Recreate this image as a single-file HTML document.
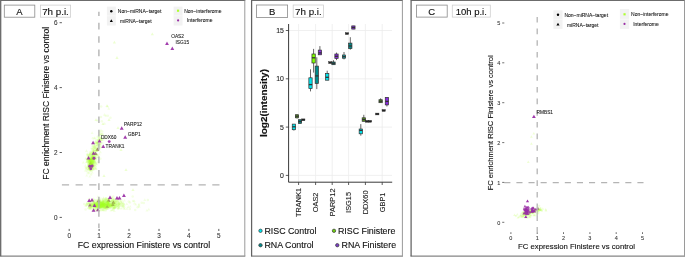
<!DOCTYPE html>
<html lang="en"><head><meta charset="utf-8"><title>Figure</title>
<style>html,body{margin:0;padding:0;background:#fff}svg{display:block;will-change:transform}</style>
</head><body>
<svg width="685" height="257" viewBox="0 0 685 257" font-family='"Liberation Sans", Arial, sans-serif'>
<rect width="685" height="257" fill="#fff"/>
<line x1="0.09999999999999998" y1="0.45" x2="245.3" y2="0.45" stroke="#6c6c6c" stroke-width="1.1"/>
<line x1="0.09999999999999998" y1="256.15" x2="245.3" y2="256.15" stroke="#858585" stroke-width="1.1"/>
<line x1="0.7" y1="0.45" x2="0.7" y2="256.15" stroke="#626262" stroke-width="1.25"/>
<line x1="244.8" y1="0.45" x2="244.8" y2="256.15" stroke="#9a9a9a" stroke-width="1.0"/>
<line x1="251.0" y1="0.45" x2="402.9" y2="0.45" stroke="#6c6c6c" stroke-width="1.1"/>
<line x1="251.0" y1="256.15" x2="402.9" y2="256.15" stroke="#858585" stroke-width="1.1"/>
<line x1="251.6" y1="0.45" x2="251.6" y2="256.15" stroke="#626262" stroke-width="1.25"/>
<line x1="402.4" y1="0.45" x2="402.4" y2="256.15" stroke="#9a9a9a" stroke-width="1.0"/>
<line x1="410.5" y1="0.45" x2="685.0" y2="0.45" stroke="#6c6c6c" stroke-width="1.1"/>
<line x1="410.5" y1="256.15" x2="685.0" y2="256.15" stroke="#858585" stroke-width="1.1"/>
<line x1="411.1" y1="0.45" x2="411.1" y2="256.15" stroke="#626262" stroke-width="1.25"/>
<line x1="684.5" y1="0.45" x2="684.5" y2="256.15" stroke="#9a9a9a" stroke-width="1.0"/>
<rect x="4.3" y="5.1" width="30.499999999999996" height="12.1" fill="#fff" stroke="#8a8a8a" stroke-width="0.8"/>
<text x="19.5" y="14.6" font-size="9.5" text-anchor="middle" font-weight="normal" fill="#111" stroke="#111" stroke-width="0.13">A</text>
<rect x="40.4" y="5.1" width="30.199999999999996" height="12.1" fill="#fff" stroke="#cfcfcf" stroke-width="0.8"/>
<text x="55.5" y="14.7" font-size="9.8" text-anchor="middle" font-weight="normal" fill="#111" stroke="#111" stroke-width="0.14">7h p.i.</text>
<line x1="61.9" y1="184.9" x2="225" y2="184.9" stroke="#b4b4b4" stroke-width="1.4" stroke-dasharray="7.2 6.47"/>
<path d="M90.0 203.3L91.9 206.6L88.1 206.6Z" fill="#9a2ea6" fill-opacity="0.95"/>
<path d="M97.8 208.0L99.7 211.3L95.9 211.3Z" fill="#9a2ea6" fill-opacity="0.95"/>
<path d="M98.6 199.0L100.5 202.3L96.7 202.3Z" fill="#9a2ea6" fill-opacity="0.95"/>
<path d="M108.7 198.6L110.6 201.9L106.8 201.9Z" fill="#9a2ea6" fill-opacity="0.95"/>
<path d="M107.2 204.4L109.1 207.7L105.3 207.7Z" fill="#9a2ea6" fill-opacity="0.95"/>
<path d="M112.7 202.8L114.6 206.1L110.8 206.1Z" fill="#9a2ea6" fill-opacity="0.95"/>
<path d="M113.4 200.5L115.3 203.8L111.5 203.8Z" fill="#9a2ea6" fill-opacity="0.95"/>
<path d="M97.5 147.5L99.4 150.8L95.6 150.8Z" fill="#9a2ea6" fill-opacity="0.95"/>
<path d="M95.6 151.7L97.5 155.0L93.7 155.0Z" fill="#9a2ea6" fill-opacity="0.95"/>
<path d="M90.8 161.1L92.7 164.4L88.9 164.4Z" fill="#9a2ea6" fill-opacity="0.95"/>
<path d="M93.0 156.5L94.9 159.8L91.1 159.8Z" fill="#9a2ea6" fill-opacity="0.95"/>
<path d="M91.0 164.5L92.9 167.8L89.1 167.8Z" fill="#9a2ea6" fill-opacity="0.95"/>
<g><path d="M98.5 204.2L100.0 206.9L97.0 206.9Z" fill="#adff2f" fill-opacity="0.13"/><circle cx="98.7" cy="203.9" r="1.25" fill="#adff2f" fill-opacity="0.13"/><circle cx="94.6" cy="204.3" r="1.25" fill="#adff2f" fill-opacity="0.13"/><path d="M106.4 203.8L107.9 206.4L104.9 206.4Z" fill="#adff2f" fill-opacity="0.13"/><path d="M106.0 203.4L107.5 206.0L104.5 206.0Z" fill="#adff2f" fill-opacity="0.13"/><path d="M102.3 203.4L103.8 206.0L100.8 206.0Z" fill="#adff2f" fill-opacity="0.13"/><circle cx="90.3" cy="206.9" r="1.25" fill="#adff2f" fill-opacity="0.13"/><circle cx="102.9" cy="205.7" r="1.25" fill="#adff2f" fill-opacity="0.13"/><path d="M90.2 199.3L91.7 201.9L88.7 201.9Z" fill="#adff2f" fill-opacity="0.13"/><path d="M94.8 202.1L96.3 204.7L93.3 204.7Z" fill="#adff2f" fill-opacity="0.13"/><path d="M101.8 202.9L103.3 205.5L100.3 205.5Z" fill="#adff2f" fill-opacity="0.13"/><circle cx="103.0" cy="203.0" r="1.25" fill="#adff2f" fill-opacity="0.13"/><path d="M101.8 203.9L103.3 206.5L100.3 206.5Z" fill="#adff2f" fill-opacity="0.13"/><circle cx="96.2" cy="208.7" r="1.25" fill="#adff2f" fill-opacity="0.13"/><path d="M103.2 205.7L104.7 208.3L101.7 208.3Z" fill="#adff2f" fill-opacity="0.13"/><circle cx="96.4" cy="203.0" r="1.25" fill="#adff2f" fill-opacity="0.13"/><path d="M98.0 202.8L99.5 205.5L96.5 205.5Z" fill="#adff2f" fill-opacity="0.13"/><path d="M103.7 203.5L105.2 206.1L102.2 206.1Z" fill="#adff2f" fill-opacity="0.13"/><circle cx="97.4" cy="202.5" r="1.25" fill="#adff2f" fill-opacity="0.13"/><circle cx="97.0" cy="207.5" r="1.25" fill="#adff2f" fill-opacity="0.13"/><circle cx="95.3" cy="205.3" r="1.25" fill="#adff2f" fill-opacity="0.13"/><circle cx="102.5" cy="201.1" r="1.25" fill="#adff2f" fill-opacity="0.13"/><circle cx="100.3" cy="207.6" r="1.25" fill="#adff2f" fill-opacity="0.13"/><path d="M88.3 202.6L89.8 205.3L86.8 205.3Z" fill="#adff2f" fill-opacity="0.13"/><path d="M99.4 201.2L100.9 203.8L97.9 203.8Z" fill="#adff2f" fill-opacity="0.13"/><path d="M102.9 202.8L104.4 205.4L101.4 205.4Z" fill="#adff2f" fill-opacity="0.13"/><circle cx="91.5" cy="206.8" r="1.25" fill="#adff2f" fill-opacity="0.13"/><circle cx="103.9" cy="206.7" r="1.25" fill="#adff2f" fill-opacity="0.13"/><circle cx="108.4" cy="205.2" r="1.25" fill="#adff2f" fill-opacity="0.13"/><path d="M100.7 200.0L102.2 202.6L99.2 202.6Z" fill="#adff2f" fill-opacity="0.13"/><path d="M103.6 201.5L105.1 204.1L102.1 204.1Z" fill="#adff2f" fill-opacity="0.13"/><circle cx="97.4" cy="201.8" r="1.25" fill="#adff2f" fill-opacity="0.13"/><circle cx="94.4" cy="203.5" r="1.25" fill="#adff2f" fill-opacity="0.13"/><path d="M107.5 198.1L109.0 200.8L106.0 200.8Z" fill="#adff2f" fill-opacity="0.13"/><path d="M91.5 203.8L93.0 206.5L90.0 206.5Z" fill="#adff2f" fill-opacity="0.13"/><path d="M108.4 204.1L109.9 206.7L106.9 206.7Z" fill="#adff2f" fill-opacity="0.13"/><circle cx="89.0" cy="199.1" r="1.25" fill="#adff2f" fill-opacity="0.13"/><path d="M102.1 201.3L103.6 203.9L100.6 203.9Z" fill="#adff2f" fill-opacity="0.13"/><circle cx="93.5" cy="207.0" r="1.25" fill="#adff2f" fill-opacity="0.13"/><circle cx="106.4" cy="204.8" r="1.25" fill="#adff2f" fill-opacity="0.13"/><path d="M101.4 204.0L102.9 206.6L99.9 206.6Z" fill="#adff2f" fill-opacity="0.13"/><path d="M109.2 204.2L110.7 206.8L107.7 206.8Z" fill="#adff2f" fill-opacity="0.13"/><path d="M103.0 204.2L104.5 206.8L101.5 206.8Z" fill="#adff2f" fill-opacity="0.13"/><circle cx="90.9" cy="207.8" r="1.25" fill="#adff2f" fill-opacity="0.13"/><circle cx="105.5" cy="205.7" r="1.25" fill="#adff2f" fill-opacity="0.13"/><path d="M88.6 201.9L90.1 204.5L87.1 204.5Z" fill="#adff2f" fill-opacity="0.13"/><path d="M104.9 198.7L106.4 201.3L103.4 201.3Z" fill="#adff2f" fill-opacity="0.13"/><path d="M98.9 205.4L100.4 208.0L97.4 208.0Z" fill="#adff2f" fill-opacity="0.13"/><path d="M92.4 206.9L93.9 209.6L90.9 209.6Z" fill="#adff2f" fill-opacity="0.13"/><circle cx="103.2" cy="204.2" r="1.25" fill="#adff2f" fill-opacity="0.13"/><path d="M101.9 204.5L103.4 207.1L100.4 207.1Z" fill="#adff2f" fill-opacity="0.13"/><path d="M100.7 205.6L102.2 208.3L99.2 208.3Z" fill="#adff2f" fill-opacity="0.13"/><path d="M96.2 202.2L97.7 204.8L94.7 204.8Z" fill="#adff2f" fill-opacity="0.13"/><circle cx="106.0" cy="204.5" r="1.25" fill="#adff2f" fill-opacity="0.13"/><path d="M94.9 205.3L96.4 208.0L93.4 208.0Z" fill="#adff2f" fill-opacity="0.13"/><path d="M108.5 201.7L110.0 204.4L107.0 204.4Z" fill="#adff2f" fill-opacity="0.13"/><path d="M92.0 202.9L93.5 205.6L90.5 205.6Z" fill="#adff2f" fill-opacity="0.13"/><circle cx="99.1" cy="203.9" r="1.25" fill="#adff2f" fill-opacity="0.13"/><path d="M108.1 200.4L109.6 203.0L106.6 203.0Z" fill="#adff2f" fill-opacity="0.13"/><path d="M107.3 199.9L108.8 202.5L105.8 202.5Z" fill="#adff2f" fill-opacity="0.13"/><circle cx="95.4" cy="206.2" r="1.25" fill="#adff2f" fill-opacity="0.13"/><path d="M106.5 204.8L108.0 207.4L105.0 207.4Z" fill="#adff2f" fill-opacity="0.13"/><path d="M102.0 203.3L103.5 205.9L100.5 205.9Z" fill="#adff2f" fill-opacity="0.13"/><circle cx="100.9" cy="205.9" r="1.25" fill="#adff2f" fill-opacity="0.13"/><path d="M99.0 203.7L100.5 206.3L97.5 206.3Z" fill="#adff2f" fill-opacity="0.13"/><circle cx="103.3" cy="204.5" r="1.25" fill="#adff2f" fill-opacity="0.13"/><circle cx="104.4" cy="205.8" r="1.25" fill="#adff2f" fill-opacity="0.13"/><circle cx="111.7" cy="205.0" r="1.25" fill="#adff2f" fill-opacity="0.13"/><circle cx="97.5" cy="203.8" r="1.25" fill="#adff2f" fill-opacity="0.13"/><path d="M99.9 205.1L101.4 207.8L98.4 207.8Z" fill="#adff2f" fill-opacity="0.13"/><circle cx="98.0" cy="205.5" r="1.25" fill="#adff2f" fill-opacity="0.13"/><circle cx="110.7" cy="198.4" r="1.25" fill="#adff2f" fill-opacity="0.13"/><circle cx="93.5" cy="205.4" r="1.25" fill="#adff2f" fill-opacity="0.13"/><circle cx="102.3" cy="205.1" r="1.25" fill="#adff2f" fill-opacity="0.13"/><circle cx="97.5" cy="206.2" r="1.25" fill="#adff2f" fill-opacity="0.13"/><circle cx="101.6" cy="203.4" r="1.25" fill="#adff2f" fill-opacity="0.13"/><path d="M114.1 203.4L115.6 206.0L112.6 206.0Z" fill="#adff2f" fill-opacity="0.13"/><path d="M96.8 202.9L98.3 205.5L95.3 205.5Z" fill="#adff2f" fill-opacity="0.13"/><circle cx="98.7" cy="204.5" r="1.25" fill="#adff2f" fill-opacity="0.13"/><circle cx="84.2" cy="204.0" r="1.25" fill="#adff2f" fill-opacity="0.13"/><circle cx="105.8" cy="201.7" r="1.25" fill="#adff2f" fill-opacity="0.13"/><circle cx="99.6" cy="206.8" r="1.25" fill="#adff2f" fill-opacity="0.13"/><path d="M105.0 206.3L106.5 208.9L103.5 208.9Z" fill="#adff2f" fill-opacity="0.13"/><circle cx="90.1" cy="204.1" r="1.25" fill="#adff2f" fill-opacity="0.13"/><circle cx="98.0" cy="206.1" r="1.25" fill="#adff2f" fill-opacity="0.13"/><circle cx="106.3" cy="198.2" r="1.25" fill="#adff2f" fill-opacity="0.13"/><circle cx="106.3" cy="201.1" r="1.25" fill="#adff2f" fill-opacity="0.13"/><path d="M104.0 199.5L105.5 202.1L102.5 202.1Z" fill="#adff2f" fill-opacity="0.13"/><circle cx="101.0" cy="207.3" r="1.25" fill="#adff2f" fill-opacity="0.13"/><path d="M99.1 203.5L100.6 206.1L97.6 206.1Z" fill="#adff2f" fill-opacity="0.13"/><path d="M104.6 203.2L106.1 205.8L103.1 205.8Z" fill="#adff2f" fill-opacity="0.13"/><path d="M99.5 206.6L101.0 209.2L98.0 209.2Z" fill="#adff2f" fill-opacity="0.13"/><path d="M106.1 202.2L107.6 204.8L104.6 204.8Z" fill="#adff2f" fill-opacity="0.13"/><circle cx="115.9" cy="201.5" r="1.25" fill="#adff2f" fill-opacity="0.13"/><path d="M105.3 202.2L106.8 204.9L103.8 204.9Z" fill="#adff2f" fill-opacity="0.13"/><path d="M100.8 204.6L102.3 207.3L99.3 207.3Z" fill="#adff2f" fill-opacity="0.13"/><path d="M101.3 204.4L102.8 207.1L99.8 207.1Z" fill="#adff2f" fill-opacity="0.13"/><path d="M91.1 199.8L92.6 202.4L89.6 202.4Z" fill="#adff2f" fill-opacity="0.13"/><path d="M103.6 200.7L105.1 203.3L102.1 203.3Z" fill="#adff2f" fill-opacity="0.13"/><path d="M94.0 199.8L95.5 202.5L92.5 202.5Z" fill="#adff2f" fill-opacity="0.13"/><path d="M107.3 204.5L108.8 207.2L105.8 207.2Z" fill="#adff2f" fill-opacity="0.13"/><circle cx="108.5" cy="202.2" r="1.25" fill="#adff2f" fill-opacity="0.13"/><path d="M100.0 200.4L101.5 203.0L98.5 203.0Z" fill="#adff2f" fill-opacity="0.13"/><path d="M104.4 206.5L105.9 209.2L102.9 209.2Z" fill="#adff2f" fill-opacity="0.13"/><circle cx="94.8" cy="208.3" r="1.25" fill="#adff2f" fill-opacity="0.13"/><path d="M105.7 202.4L107.2 205.1L104.2 205.1Z" fill="#adff2f" fill-opacity="0.13"/><path d="M88.6 206.6L90.1 209.2L87.1 209.2Z" fill="#adff2f" fill-opacity="0.13"/><path d="M99.4 201.6L100.9 204.3L97.9 204.3Z" fill="#adff2f" fill-opacity="0.13"/><path d="M102.3 203.9L103.8 206.5L100.8 206.5Z" fill="#adff2f" fill-opacity="0.13"/><path d="M108.7 200.4L110.2 203.0L107.2 203.0Z" fill="#adff2f" fill-opacity="0.13"/><circle cx="106.6" cy="207.8" r="1.25" fill="#adff2f" fill-opacity="0.13"/><circle cx="108.4" cy="203.9" r="1.25" fill="#adff2f" fill-opacity="0.13"/><circle cx="95.7" cy="207.1" r="1.25" fill="#adff2f" fill-opacity="0.13"/><path d="M100.7 203.3L102.2 205.9L99.2 205.9Z" fill="#adff2f" fill-opacity="0.13"/><circle cx="108.3" cy="203.7" r="1.25" fill="#adff2f" fill-opacity="0.13"/><circle cx="86.7" cy="204.1" r="1.25" fill="#adff2f" fill-opacity="0.13"/><path d="M89.2 205.2L90.7 207.9L87.7 207.9Z" fill="#adff2f" fill-opacity="0.13"/><path d="M101.8 201.6L103.3 204.2L100.3 204.2Z" fill="#adff2f" fill-opacity="0.13"/><circle cx="99.9" cy="206.5" r="1.25" fill="#adff2f" fill-opacity="0.13"/><circle cx="100.5" cy="207.6" r="1.25" fill="#adff2f" fill-opacity="0.13"/><path d="M99.6 205.4L101.1 208.1L98.1 208.1Z" fill="#adff2f" fill-opacity="0.13"/><circle cx="108.7" cy="208.0" r="1.25" fill="#adff2f" fill-opacity="0.13"/><path d="M96.1 205.2L97.6 207.8L94.6 207.8Z" fill="#adff2f" fill-opacity="0.13"/><circle cx="89.1" cy="202.4" r="1.25" fill="#adff2f" fill-opacity="0.13"/><path d="M88.6 205.8L90.1 208.5L87.1 208.5Z" fill="#adff2f" fill-opacity="0.13"/><path d="M92.9 203.2L94.4 205.8L91.4 205.8Z" fill="#adff2f" fill-opacity="0.13"/><circle cx="98.9" cy="204.6" r="1.25" fill="#adff2f" fill-opacity="0.13"/><path d="M96.6 203.7L98.1 206.3L95.1 206.3Z" fill="#adff2f" fill-opacity="0.13"/><path d="M110.4 202.8L111.9 205.4L108.9 205.4Z" fill="#adff2f" fill-opacity="0.13"/><path d="M103.1 205.2L104.6 207.9L101.6 207.9Z" fill="#adff2f" fill-opacity="0.13"/><path d="M98.9 200.2L100.4 202.8L97.4 202.8Z" fill="#adff2f" fill-opacity="0.13"/><path d="M96.8 205.6L98.3 208.2L95.3 208.2Z" fill="#adff2f" fill-opacity="0.13"/><circle cx="90.5" cy="203.5" r="1.25" fill="#adff2f" fill-opacity="0.13"/><path d="M105.8 204.7L107.3 207.3L104.3 207.3Z" fill="#adff2f" fill-opacity="0.13"/><path d="M100.0 204.9L101.5 207.5L98.5 207.5Z" fill="#adff2f" fill-opacity="0.13"/><path d="M101.0 200.3L102.5 202.9L99.5 202.9Z" fill="#adff2f" fill-opacity="0.13"/><circle cx="90.9" cy="203.4" r="1.25" fill="#adff2f" fill-opacity="0.13"/><circle cx="105.4" cy="203.1" r="1.25" fill="#adff2f" fill-opacity="0.13"/><circle cx="94.8" cy="203.0" r="1.25" fill="#adff2f" fill-opacity="0.13"/><path d="M91.1 203.0L92.6 205.7L89.6 205.7Z" fill="#adff2f" fill-opacity="0.13"/><circle cx="93.2" cy="205.6" r="1.25" fill="#adff2f" fill-opacity="0.13"/><circle cx="86.3" cy="205.8" r="1.25" fill="#adff2f" fill-opacity="0.13"/><circle cx="96.3" cy="200.2" r="1.25" fill="#adff2f" fill-opacity="0.13"/><path d="M104.2 202.3L105.7 204.9L102.7 204.9Z" fill="#adff2f" fill-opacity="0.13"/><circle cx="87.1" cy="203.0" r="1.25" fill="#adff2f" fill-opacity="0.13"/><circle cx="101.7" cy="203.5" r="1.25" fill="#adff2f" fill-opacity="0.13"/><path d="M104.5 204.6L106.0 207.2L103.0 207.2Z" fill="#adff2f" fill-opacity="0.13"/><path d="M103.9 203.7L105.4 206.3L102.4 206.3Z" fill="#adff2f" fill-opacity="0.13"/><path d="M107.7 204.3L109.2 206.9L106.2 206.9Z" fill="#adff2f" fill-opacity="0.13"/><circle cx="102.6" cy="199.7" r="1.25" fill="#adff2f" fill-opacity="0.13"/><circle cx="105.2" cy="207.5" r="1.25" fill="#adff2f" fill-opacity="0.13"/><circle cx="98.3" cy="203.6" r="1.25" fill="#adff2f" fill-opacity="0.13"/><circle cx="111.3" cy="200.2" r="1.25" fill="#adff2f" fill-opacity="0.13"/><path d="M102.7 208.5L104.2 211.1L101.2 211.1Z" fill="#adff2f" fill-opacity="0.13"/><path d="M94.6 204.8L96.1 207.4L93.1 207.4Z" fill="#adff2f" fill-opacity="0.13"/><circle cx="110.9" cy="204.0" r="1.25" fill="#adff2f" fill-opacity="0.13"/><circle cx="103.3" cy="206.6" r="1.25" fill="#adff2f" fill-opacity="0.13"/><path d="M94.7 203.0L96.2 205.6L93.2 205.6Z" fill="#adff2f" fill-opacity="0.13"/><circle cx="101.7" cy="206.4" r="1.25" fill="#adff2f" fill-opacity="0.13"/><path d="M99.8 202.6L101.3 205.2L98.3 205.2Z" fill="#adff2f" fill-opacity="0.13"/><path d="M94.1 202.4L95.6 205.0L92.6 205.0Z" fill="#adff2f" fill-opacity="0.13"/><path d="M105.2 203.1L106.7 205.7L103.7 205.7Z" fill="#adff2f" fill-opacity="0.13"/><path d="M95.1 201.2L96.6 203.9L93.6 203.9Z" fill="#adff2f" fill-opacity="0.13"/><circle cx="115.5" cy="206.8" r="1.25" fill="#adff2f" fill-opacity="0.13"/><path d="M103.7 196.9L105.2 199.6L102.2 199.6Z" fill="#adff2f" fill-opacity="0.13"/><path d="M103.6 204.0L105.1 206.7L102.1 206.7Z" fill="#adff2f" fill-opacity="0.13"/><circle cx="109.8" cy="205.3" r="1.25" fill="#adff2f" fill-opacity="0.13"/><path d="M99.6 204.2L101.1 206.9L98.1 206.9Z" fill="#adff2f" fill-opacity="0.13"/><path d="M88.7 205.7L90.2 208.4L87.2 208.4Z" fill="#adff2f" fill-opacity="0.13"/><path d="M101.9 201.3L103.4 204.0L100.4 204.0Z" fill="#adff2f" fill-opacity="0.13"/><circle cx="107.7" cy="208.5" r="1.25" fill="#adff2f" fill-opacity="0.13"/><circle cx="91.9" cy="203.3" r="1.25" fill="#adff2f" fill-opacity="0.13"/><circle cx="101.7" cy="205.0" r="1.25" fill="#adff2f" fill-opacity="0.13"/><path d="M97.7 200.8L99.2 203.5L96.2 203.5Z" fill="#adff2f" fill-opacity="0.13"/><circle cx="112.3" cy="206.6" r="1.25" fill="#adff2f" fill-opacity="0.13"/><circle cx="93.1" cy="201.7" r="1.25" fill="#adff2f" fill-opacity="0.13"/><path d="M109.9 205.0L111.4 207.6L108.4 207.6Z" fill="#adff2f" fill-opacity="0.13"/><path d="M110.6 204.6L112.1 207.2L109.1 207.2Z" fill="#adff2f" fill-opacity="0.13"/><path d="M94.9 203.8L96.4 206.4L93.4 206.4Z" fill="#adff2f" fill-opacity="0.13"/><path d="M87.5 201.7L89.0 204.3L86.0 204.3Z" fill="#adff2f" fill-opacity="0.13"/><circle cx="99.7" cy="205.8" r="1.25" fill="#adff2f" fill-opacity="0.13"/><path d="M95.8 202.9L97.3 205.5L94.3 205.5Z" fill="#adff2f" fill-opacity="0.13"/><circle cx="102.7" cy="205.4" r="1.25" fill="#adff2f" fill-opacity="0.13"/><path d="M103.7 203.4L105.2 206.0L102.2 206.0Z" fill="#adff2f" fill-opacity="0.13"/><circle cx="98.1" cy="206.5" r="1.25" fill="#adff2f" fill-opacity="0.13"/><circle cx="100.3" cy="202.7" r="1.25" fill="#adff2f" fill-opacity="0.13"/><circle cx="96.4" cy="204.7" r="1.25" fill="#adff2f" fill-opacity="0.13"/><circle cx="99.4" cy="205.0" r="1.25" fill="#adff2f" fill-opacity="0.13"/><circle cx="100.0" cy="205.0" r="1.25" fill="#adff2f" fill-opacity="0.13"/><path d="M99.2 200.1L100.7 202.8L97.7 202.8Z" fill="#adff2f" fill-opacity="0.13"/><circle cx="102.4" cy="207.0" r="1.25" fill="#adff2f" fill-opacity="0.13"/><path d="M102.5 202.5L104.0 205.1L101.0 205.1Z" fill="#adff2f" fill-opacity="0.13"/><circle cx="102.6" cy="202.3" r="1.25" fill="#adff2f" fill-opacity="0.13"/><circle cx="89.0" cy="205.1" r="1.25" fill="#adff2f" fill-opacity="0.13"/><circle cx="94.6" cy="206.5" r="1.25" fill="#adff2f" fill-opacity="0.13"/><path d="M93.7 197.2L95.2 199.8L92.2 199.8Z" fill="#adff2f" fill-opacity="0.13"/><circle cx="94.0" cy="208.4" r="1.25" fill="#adff2f" fill-opacity="0.13"/><circle cx="97.8" cy="201.5" r="1.25" fill="#adff2f" fill-opacity="0.13"/><path d="M95.6 204.3L97.1 207.0L94.1 207.0Z" fill="#adff2f" fill-opacity="0.13"/><path d="M102.9 203.3L104.4 206.0L101.4 206.0Z" fill="#adff2f" fill-opacity="0.13"/><circle cx="108.6" cy="206.0" r="1.25" fill="#adff2f" fill-opacity="0.13"/><circle cx="99.9" cy="206.0" r="1.25" fill="#adff2f" fill-opacity="0.13"/><path d="M109.6 205.0L111.1 207.6L108.1 207.6Z" fill="#adff2f" fill-opacity="0.13"/><path d="M105.9 200.3L107.4 203.0L104.4 203.0Z" fill="#adff2f" fill-opacity="0.13"/><path d="M99.1 204.7L100.6 207.4L97.6 207.4Z" fill="#adff2f" fill-opacity="0.13"/><circle cx="98.3" cy="207.1" r="1.25" fill="#adff2f" fill-opacity="0.13"/><circle cx="103.5" cy="206.6" r="1.25" fill="#adff2f" fill-opacity="0.13"/><path d="M98.8 208.9L100.3 211.5L97.3 211.5Z" fill="#adff2f" fill-opacity="0.13"/><circle cx="107.2" cy="203.9" r="1.25" fill="#adff2f" fill-opacity="0.13"/><path d="M100.5 209.0L102.0 211.6L99.0 211.6Z" fill="#adff2f" fill-opacity="0.13"/><circle cx="98.0" cy="206.7" r="1.25" fill="#adff2f" fill-opacity="0.13"/><path d="M105.7 202.9L107.2 205.5L104.2 205.5Z" fill="#adff2f" fill-opacity="0.13"/><path d="M93.2 203.7L94.7 206.3L91.7 206.3Z" fill="#adff2f" fill-opacity="0.13"/><path d="M102.1 205.6L103.6 208.2L100.6 208.2Z" fill="#adff2f" fill-opacity="0.13"/><path d="M104.5 202.9L106.0 205.6L103.0 205.6Z" fill="#adff2f" fill-opacity="0.13"/><circle cx="105.0" cy="205.7" r="1.25" fill="#adff2f" fill-opacity="0.13"/><circle cx="101.2" cy="204.7" r="1.25" fill="#adff2f" fill-opacity="0.13"/><path d="M98.6 204.6L100.1 207.3L97.1 207.3Z" fill="#adff2f" fill-opacity="0.13"/><circle cx="93.9" cy="203.3" r="1.25" fill="#adff2f" fill-opacity="0.13"/><path d="M100.0 199.6L101.5 202.3L98.5 202.3Z" fill="#adff2f" fill-opacity="0.13"/><path d="M97.5 198.5L99.0 201.1L96.0 201.1Z" fill="#adff2f" fill-opacity="0.13"/><path d="M96.0 204.4L97.5 207.1L94.5 207.1Z" fill="#adff2f" fill-opacity="0.13"/><circle cx="103.3" cy="204.4" r="1.25" fill="#adff2f" fill-opacity="0.13"/><circle cx="98.7" cy="201.4" r="1.25" fill="#adff2f" fill-opacity="0.13"/><path d="M110.6 203.9L112.1 206.5L109.1 206.5Z" fill="#adff2f" fill-opacity="0.13"/><path d="M106.3 200.8L107.8 203.4L104.8 203.4Z" fill="#adff2f" fill-opacity="0.13"/><circle cx="98.9" cy="200.4" r="1.25" fill="#adff2f" fill-opacity="0.13"/><path d="M104.5 205.0L106.0 207.7L103.0 207.7Z" fill="#adff2f" fill-opacity="0.13"/><circle cx="89.0" cy="204.8" r="1.25" fill="#adff2f" fill-opacity="0.13"/><path d="M103.7 198.9L105.2 201.5L102.2 201.5Z" fill="#adff2f" fill-opacity="0.13"/><circle cx="89.4" cy="202.5" r="1.25" fill="#adff2f" fill-opacity="0.13"/><path d="M96.4 199.9L97.9 202.5L94.9 202.5Z" fill="#adff2f" fill-opacity="0.13"/><circle cx="100.2" cy="205.2" r="1.25" fill="#adff2f" fill-opacity="0.13"/><path d="M103.7 204.5L105.2 207.2L102.2 207.2Z" fill="#adff2f" fill-opacity="0.13"/><path d="M108.7 205.4L110.2 208.1L107.2 208.1Z" fill="#adff2f" fill-opacity="0.13"/><circle cx="92.4" cy="203.7" r="1.25" fill="#adff2f" fill-opacity="0.13"/><path d="M93.9 200.7L95.4 203.4L92.4 203.4Z" fill="#adff2f" fill-opacity="0.13"/><circle cx="99.5" cy="204.6" r="1.25" fill="#adff2f" fill-opacity="0.13"/><path d="M102.8 199.3L104.3 201.9L101.3 201.9Z" fill="#adff2f" fill-opacity="0.13"/><circle cx="92.8" cy="204.8" r="1.25" fill="#adff2f" fill-opacity="0.13"/><path d="M98.8 202.3L100.3 205.0L97.3 205.0Z" fill="#adff2f" fill-opacity="0.13"/><circle cx="99.6" cy="202.9" r="1.25" fill="#adff2f" fill-opacity="0.13"/><path d="M104.1 203.7L105.6 206.3L102.6 206.3Z" fill="#adff2f" fill-opacity="0.13"/><circle cx="99.5" cy="203.1" r="1.25" fill="#adff2f" fill-opacity="0.13"/><path d="M99.0 196.8L100.5 199.4L97.5 199.4Z" fill="#adff2f" fill-opacity="0.13"/><circle cx="94.3" cy="204.9" r="1.25" fill="#adff2f" fill-opacity="0.13"/><circle cx="91.3" cy="205.3" r="1.25" fill="#adff2f" fill-opacity="0.13"/><circle cx="100.9" cy="201.4" r="1.25" fill="#adff2f" fill-opacity="0.13"/><path d="M98.5 202.3L100.0 205.0L97.0 205.0Z" fill="#adff2f" fill-opacity="0.13"/><path d="M102.7 204.3L104.2 207.0L101.2 207.0Z" fill="#adff2f" fill-opacity="0.13"/><path d="M99.8 201.1L101.3 203.7L98.3 203.7Z" fill="#adff2f" fill-opacity="0.13"/><path d="M99.2 202.9L100.7 205.5L97.7 205.5Z" fill="#adff2f" fill-opacity="0.13"/><path d="M104.3 203.6L105.8 206.2L102.8 206.2Z" fill="#adff2f" fill-opacity="0.13"/><path d="M95.8 200.0L97.3 202.7L94.3 202.7Z" fill="#adff2f" fill-opacity="0.13"/><circle cx="97.8" cy="203.0" r="1.25" fill="#adff2f" fill-opacity="0.13"/><circle cx="93.6" cy="204.5" r="1.25" fill="#adff2f" fill-opacity="0.13"/><path d="M97.2 203.3L98.7 206.0L95.7 206.0Z" fill="#adff2f" fill-opacity="0.13"/><circle cx="103.0" cy="203.6" r="1.25" fill="#adff2f" fill-opacity="0.13"/><path d="M113.5 201.9L115.0 204.5L112.0 204.5Z" fill="#adff2f" fill-opacity="0.13"/><circle cx="106.4" cy="204.7" r="1.25" fill="#adff2f" fill-opacity="0.13"/><path d="M106.5 197.4L108.0 200.0L105.0 200.0Z" fill="#adff2f" fill-opacity="0.13"/><circle cx="95.6" cy="205.3" r="1.25" fill="#adff2f" fill-opacity="0.13"/><circle cx="103.5" cy="209.9" r="1.25" fill="#adff2f" fill-opacity="0.13"/><path d="M101.9 205.9L103.4 208.5L100.4 208.5Z" fill="#adff2f" fill-opacity="0.13"/><circle cx="104.4" cy="206.6" r="1.25" fill="#adff2f" fill-opacity="0.13"/><circle cx="103.0" cy="204.2" r="1.25" fill="#adff2f" fill-opacity="0.13"/><path d="M103.0 200.4L104.5 203.1L101.5 203.1Z" fill="#adff2f" fill-opacity="0.13"/><path d="M106.9 200.5L108.4 203.1L105.4 203.1Z" fill="#adff2f" fill-opacity="0.13"/><path d="M101.4 207.9L102.9 210.5L99.9 210.5Z" fill="#adff2f" fill-opacity="0.13"/><circle cx="98.7" cy="204.7" r="1.25" fill="#adff2f" fill-opacity="0.13"/><path d="M106.7 202.9L108.2 205.5L105.2 205.5Z" fill="#adff2f" fill-opacity="0.13"/><circle cx="95.3" cy="205.3" r="1.25" fill="#adff2f" fill-opacity="0.13"/><circle cx="103.4" cy="206.1" r="1.25" fill="#adff2f" fill-opacity="0.13"/><path d="M95.5 207.2L97.0 209.8L94.0 209.8Z" fill="#adff2f" fill-opacity="0.13"/><circle cx="109.7" cy="204.4" r="1.25" fill="#adff2f" fill-opacity="0.13"/><circle cx="101.6" cy="203.6" r="1.25" fill="#adff2f" fill-opacity="0.13"/><path d="M108.2 201.1L109.7 203.8L106.7 203.8Z" fill="#adff2f" fill-opacity="0.13"/><circle cx="103.9" cy="203.4" r="1.25" fill="#adff2f" fill-opacity="0.13"/><path d="M96.0 204.8L97.5 207.4L94.5 207.4Z" fill="#adff2f" fill-opacity="0.13"/><circle cx="107.7" cy="204.3" r="1.25" fill="#adff2f" fill-opacity="0.13"/><circle cx="96.1" cy="206.6" r="1.25" fill="#adff2f" fill-opacity="0.13"/><path d="M99.7 203.7L101.2 206.4L98.2 206.4Z" fill="#adff2f" fill-opacity="0.13"/><circle cx="108.8" cy="206.9" r="1.25" fill="#adff2f" fill-opacity="0.13"/><circle cx="97.0" cy="209.9" r="1.25" fill="#adff2f" fill-opacity="0.13"/><path d="M100.0 204.8L101.5 207.5L98.5 207.5Z" fill="#adff2f" fill-opacity="0.13"/><path d="M96.2 203.0L97.7 205.7L94.7 205.7Z" fill="#adff2f" fill-opacity="0.13"/><path d="M89.9 207.4L91.4 210.1L88.4 210.1Z" fill="#adff2f" fill-opacity="0.13"/><circle cx="107.9" cy="201.6" r="1.25" fill="#adff2f" fill-opacity="0.13"/><path d="M91.3 199.5L92.8 202.2L89.8 202.2Z" fill="#adff2f" fill-opacity="0.13"/><circle cx="106.8" cy="203.3" r="1.25" fill="#adff2f" fill-opacity="0.13"/><path d="M99.6 202.3L101.1 204.9L98.1 204.9Z" fill="#adff2f" fill-opacity="0.13"/><circle cx="99.3" cy="202.1" r="1.25" fill="#adff2f" fill-opacity="0.13"/><path d="M100.1 199.7L101.6 202.3L98.6 202.3Z" fill="#adff2f" fill-opacity="0.13"/><path d="M99.6 203.7L101.1 206.4L98.1 206.4Z" fill="#adff2f" fill-opacity="0.13"/><circle cx="102.7" cy="204.0" r="1.25" fill="#adff2f" fill-opacity="0.13"/><path d="M94.8 203.5L96.3 206.2L93.3 206.2Z" fill="#adff2f" fill-opacity="0.13"/><path d="M97.2 206.7L98.7 209.3L95.7 209.3Z" fill="#adff2f" fill-opacity="0.13"/><circle cx="104.5" cy="204.2" r="1.25" fill="#adff2f" fill-opacity="0.13"/><circle cx="97.3" cy="203.1" r="1.25" fill="#adff2f" fill-opacity="0.13"/><circle cx="94.6" cy="204.0" r="1.25" fill="#adff2f" fill-opacity="0.13"/><circle cx="101.7" cy="205.7" r="1.25" fill="#adff2f" fill-opacity="0.13"/><path d="M103.3 207.7L104.8 210.4L101.8 210.4Z" fill="#adff2f" fill-opacity="0.13"/><path d="M95.9 203.2L97.4 205.8L94.4 205.8Z" fill="#adff2f" fill-opacity="0.13"/><circle cx="116.2" cy="199.8" r="1.25" fill="#adff2f" fill-opacity="0.13"/><circle cx="97.0" cy="205.1" r="1.25" fill="#adff2f" fill-opacity="0.13"/><path d="M100.9 203.9L102.4 206.6L99.4 206.6Z" fill="#adff2f" fill-opacity="0.13"/><circle cx="98.6" cy="205.5" r="1.25" fill="#adff2f" fill-opacity="0.13"/><path d="M100.3 204.8L101.8 207.4L98.8 207.4Z" fill="#adff2f" fill-opacity="0.13"/><path d="M89.0 201.3L90.5 203.9L87.5 203.9Z" fill="#adff2f" fill-opacity="0.13"/><path d="M100.0 200.6L101.5 203.3L98.5 203.3Z" fill="#adff2f" fill-opacity="0.13"/><path d="M93.9 204.6L95.4 207.3L92.4 207.3Z" fill="#adff2f" fill-opacity="0.13"/><circle cx="96.2" cy="206.2" r="1.25" fill="#adff2f" fill-opacity="0.13"/><path d="M104.3 203.6L105.8 206.2L102.8 206.2Z" fill="#adff2f" fill-opacity="0.13"/><circle cx="102.9" cy="204.3" r="1.25" fill="#adff2f" fill-opacity="0.13"/><path d="M91.8 203.2L93.3 205.8L90.3 205.8Z" fill="#adff2f" fill-opacity="0.13"/><path d="M102.6 201.7L104.1 204.4L101.1 204.4Z" fill="#adff2f" fill-opacity="0.13"/><path d="M99.4 204.8L100.9 207.4L97.9 207.4Z" fill="#adff2f" fill-opacity="0.13"/><path d="M94.9 204.6L96.4 207.3L93.4 207.3Z" fill="#adff2f" fill-opacity="0.13"/><path d="M110.8 201.4L112.3 204.1L109.3 204.1Z" fill="#adff2f" fill-opacity="0.13"/><circle cx="100.8" cy="204.2" r="1.25" fill="#adff2f" fill-opacity="0.13"/><path d="M108.9 203.5L110.4 206.1L107.4 206.1Z" fill="#adff2f" fill-opacity="0.13"/><circle cx="105.2" cy="202.9" r="1.25" fill="#adff2f" fill-opacity="0.13"/><circle cx="99.9" cy="204.6" r="1.25" fill="#adff2f" fill-opacity="0.13"/><path d="M89.7 206.6L91.2 209.3L88.2 209.3Z" fill="#adff2f" fill-opacity="0.13"/><path d="M105.2 198.8L106.7 201.5L103.7 201.5Z" fill="#adff2f" fill-opacity="0.13"/><path d="M104.3 202.6L105.8 205.2L102.8 205.2Z" fill="#adff2f" fill-opacity="0.13"/><circle cx="102.6" cy="205.4" r="1.25" fill="#adff2f" fill-opacity="0.13"/><path d="M91.3 202.8L92.8 205.4L89.8 205.4Z" fill="#adff2f" fill-opacity="0.13"/><path d="M108.7 201.4L110.2 204.1L107.2 204.1Z" fill="#adff2f" fill-opacity="0.13"/><circle cx="94.1" cy="201.7" r="1.25" fill="#adff2f" fill-opacity="0.13"/><circle cx="92.9" cy="205.6" r="1.25" fill="#adff2f" fill-opacity="0.13"/><circle cx="109.8" cy="205.3" r="1.25" fill="#adff2f" fill-opacity="0.13"/><path d="M101.4 208.1L102.9 210.8L99.9 210.8Z" fill="#adff2f" fill-opacity="0.13"/><path d="M97.0 201.6L98.5 204.2L95.5 204.2Z" fill="#adff2f" fill-opacity="0.13"/><path d="M103.1 204.2L104.6 206.8L101.6 206.8Z" fill="#adff2f" fill-opacity="0.13"/><path d="M94.1 200.5L95.6 203.1L92.6 203.1Z" fill="#adff2f" fill-opacity="0.13"/><path d="M101.7 203.5L103.2 206.2L100.2 206.2Z" fill="#adff2f" fill-opacity="0.13"/><circle cx="92.4" cy="204.4" r="1.25" fill="#adff2f" fill-opacity="0.13"/><path d="M96.9 204.2L98.4 206.8L95.4 206.8Z" fill="#adff2f" fill-opacity="0.13"/><circle cx="99.3" cy="204.4" r="1.25" fill="#adff2f" fill-opacity="0.13"/><path d="M97.9 205.5L99.4 208.1L96.4 208.1Z" fill="#adff2f" fill-opacity="0.13"/><path d="M108.1 201.9L109.6 204.6L106.6 204.6Z" fill="#adff2f" fill-opacity="0.13"/><circle cx="104.9" cy="202.7" r="1.25" fill="#adff2f" fill-opacity="0.13"/><circle cx="100.4" cy="206.3" r="1.25" fill="#adff2f" fill-opacity="0.13"/><circle cx="108.8" cy="203.5" r="1.25" fill="#adff2f" fill-opacity="0.13"/><circle cx="99.6" cy="205.1" r="1.25" fill="#adff2f" fill-opacity="0.13"/><circle cx="91.3" cy="204.9" r="1.25" fill="#adff2f" fill-opacity="0.13"/><circle cx="96.1" cy="205.6" r="1.25" fill="#adff2f" fill-opacity="0.13"/><circle cx="93.4" cy="200.2" r="1.25" fill="#adff2f" fill-opacity="0.13"/><circle cx="100.2" cy="205.2" r="1.25" fill="#adff2f" fill-opacity="0.13"/><path d="M96.8 205.2L98.3 207.8L95.3 207.8Z" fill="#adff2f" fill-opacity="0.13"/><path d="M98.4 201.7L99.9 204.3L96.9 204.3Z" fill="#adff2f" fill-opacity="0.13"/><path d="M102.8 199.3L104.3 202.0L101.3 202.0Z" fill="#adff2f" fill-opacity="0.13"/><circle cx="96.1" cy="204.7" r="1.25" fill="#adff2f" fill-opacity="0.13"/><path d="M104.9 202.5L106.4 205.1L103.4 205.1Z" fill="#adff2f" fill-opacity="0.13"/><path d="M101.8 201.5L103.3 204.1L100.3 204.1Z" fill="#adff2f" fill-opacity="0.13"/><path d="M101.7 206.8L103.2 209.4L100.2 209.4Z" fill="#adff2f" fill-opacity="0.13"/><path d="M96.0 208.6L97.5 211.2L94.5 211.2Z" fill="#adff2f" fill-opacity="0.13"/><circle cx="96.3" cy="204.8" r="1.25" fill="#adff2f" fill-opacity="0.13"/><path d="M101.0 205.3L102.5 208.0L99.5 208.0Z" fill="#adff2f" fill-opacity="0.13"/><circle cx="92.8" cy="200.0" r="1.25" fill="#adff2f" fill-opacity="0.13"/><circle cx="103.5" cy="206.3" r="1.25" fill="#adff2f" fill-opacity="0.13"/><path d="M103.6 209.0L105.1 211.6L102.1 211.6Z" fill="#adff2f" fill-opacity="0.13"/><circle cx="101.2" cy="205.1" r="1.25" fill="#adff2f" fill-opacity="0.13"/><path d="M105.4 203.7L106.9 206.3L103.9 206.3Z" fill="#adff2f" fill-opacity="0.13"/><path d="M109.6 199.9L111.1 202.5L108.1 202.5Z" fill="#adff2f" fill-opacity="0.13"/><path d="M97.8 195.2L99.3 197.8L96.3 197.8Z" fill="#adff2f" fill-opacity="0.13"/><path d="M104.7 202.0L106.2 204.7L103.2 204.7Z" fill="#adff2f" fill-opacity="0.13"/><circle cx="105.4" cy="209.4" r="1.25" fill="#adff2f" fill-opacity="0.13"/><circle cx="100.0" cy="204.0" r="1.25" fill="#adff2f" fill-opacity="0.13"/><circle cx="97.1" cy="202.8" r="1.25" fill="#adff2f" fill-opacity="0.13"/><path d="M96.3 204.6L97.8 207.2L94.8 207.2Z" fill="#adff2f" fill-opacity="0.13"/><circle cx="100.2" cy="204.7" r="1.25" fill="#adff2f" fill-opacity="0.13"/><path d="M99.0 205.1L100.5 207.8L97.5 207.8Z" fill="#adff2f" fill-opacity="0.13"/><circle cx="102.9" cy="204.2" r="1.25" fill="#adff2f" fill-opacity="0.13"/><circle cx="103.9" cy="204.1" r="1.25" fill="#adff2f" fill-opacity="0.13"/><path d="M93.3 206.6L94.8 209.2L91.8 209.2Z" fill="#adff2f" fill-opacity="0.13"/><circle cx="102.7" cy="202.3" r="1.25" fill="#adff2f" fill-opacity="0.13"/><path d="M106.3 203.6L107.8 206.3L104.8 206.3Z" fill="#adff2f" fill-opacity="0.13"/><circle cx="90.9" cy="208.6" r="1.25" fill="#adff2f" fill-opacity="0.13"/><circle cx="101.9" cy="206.6" r="1.25" fill="#adff2f" fill-opacity="0.13"/><circle cx="101.1" cy="204.2" r="1.25" fill="#adff2f" fill-opacity="0.13"/><circle cx="91.0" cy="207.1" r="1.25" fill="#adff2f" fill-opacity="0.13"/><circle cx="100.2" cy="203.9" r="1.25" fill="#adff2f" fill-opacity="0.13"/><path d="M102.0 203.1L103.5 205.8L100.5 205.8Z" fill="#adff2f" fill-opacity="0.13"/><circle cx="103.9" cy="203.6" r="1.25" fill="#adff2f" fill-opacity="0.13"/><circle cx="99.8" cy="199.7" r="1.25" fill="#adff2f" fill-opacity="0.13"/><path d="M97.5 204.6L99.0 207.3L96.0 207.3Z" fill="#adff2f" fill-opacity="0.13"/><circle cx="107.8" cy="203.5" r="1.25" fill="#adff2f" fill-opacity="0.13"/><path d="M99.3 206.7L100.8 209.3L97.8 209.3Z" fill="#adff2f" fill-opacity="0.13"/><circle cx="98.1" cy="206.3" r="1.25" fill="#adff2f" fill-opacity="0.13"/><circle cx="109.7" cy="204.4" r="1.25" fill="#adff2f" fill-opacity="0.13"/><circle cx="107.1" cy="202.8" r="1.25" fill="#adff2f" fill-opacity="0.13"/><path d="M101.2 202.8L102.7 205.4L99.7 205.4Z" fill="#adff2f" fill-opacity="0.13"/><circle cx="100.7" cy="207.2" r="1.25" fill="#adff2f" fill-opacity="0.13"/><circle cx="113.9" cy="202.7" r="1.25" fill="#adff2f" fill-opacity="0.13"/><path d="M96.7 204.3L98.2 206.9L95.2 206.9Z" fill="#adff2f" fill-opacity="0.13"/><circle cx="93.9" cy="205.9" r="1.25" fill="#adff2f" fill-opacity="0.13"/><path d="M103.3 202.3L104.8 204.9L101.8 204.9Z" fill="#adff2f" fill-opacity="0.13"/><circle cx="103.1" cy="200.9" r="1.25" fill="#adff2f" fill-opacity="0.13"/><path d="M104.4 199.3L105.9 202.0L102.9 202.0Z" fill="#adff2f" fill-opacity="0.13"/><circle cx="96.0" cy="203.4" r="1.25" fill="#adff2f" fill-opacity="0.13"/><circle cx="97.7" cy="206.6" r="1.25" fill="#adff2f" fill-opacity="0.13"/><path d="M100.5 202.1L102.0 204.7L99.0 204.7Z" fill="#adff2f" fill-opacity="0.13"/><path d="M103.2 206.6L104.7 209.2L101.7 209.2Z" fill="#adff2f" fill-opacity="0.13"/><path d="M100.0 203.9L101.5 206.5L98.5 206.5Z" fill="#adff2f" fill-opacity="0.13"/><circle cx="107.2" cy="205.0" r="1.25" fill="#adff2f" fill-opacity="0.13"/><circle cx="92.6" cy="210.6" r="1.25" fill="#adff2f" fill-opacity="0.13"/><circle cx="112.8" cy="199.7" r="1.25" fill="#adff2f" fill-opacity="0.13"/><circle cx="99.8" cy="205.6" r="1.25" fill="#adff2f" fill-opacity="0.13"/><circle cx="105.6" cy="206.0" r="1.25" fill="#adff2f" fill-opacity="0.13"/><path d="M98.4 200.6L99.9 203.3L96.9 203.3Z" fill="#adff2f" fill-opacity="0.13"/><path d="M100.6 205.4L102.1 208.0L99.1 208.0Z" fill="#adff2f" fill-opacity="0.13"/><circle cx="93.7" cy="202.4" r="1.25" fill="#adff2f" fill-opacity="0.13"/><path d="M99.9 198.6L101.4 201.2L98.4 201.2Z" fill="#adff2f" fill-opacity="0.13"/><circle cx="98.5" cy="203.6" r="1.25" fill="#adff2f" fill-opacity="0.13"/><circle cx="102.6" cy="202.9" r="1.25" fill="#adff2f" fill-opacity="0.13"/><circle cx="94.9" cy="203.8" r="1.25" fill="#adff2f" fill-opacity="0.13"/><circle cx="99.7" cy="203.1" r="1.25" fill="#adff2f" fill-opacity="0.13"/><path d="M100.1 204.7L101.6 207.4L98.6 207.4Z" fill="#adff2f" fill-opacity="0.13"/><path d="M106.9 206.7L108.4 209.4L105.4 209.4Z" fill="#adff2f" fill-opacity="0.13"/><circle cx="95.5" cy="203.8" r="1.25" fill="#adff2f" fill-opacity="0.13"/><circle cx="85.6" cy="209.4" r="1.25" fill="#adff2f" fill-opacity="0.13"/><path d="M95.8 203.1L97.3 205.7L94.3 205.7Z" fill="#adff2f" fill-opacity="0.13"/><path d="M103.0 199.8L104.5 202.4L101.5 202.4Z" fill="#adff2f" fill-opacity="0.13"/><path d="M102.7 202.9L104.2 205.5L101.2 205.5Z" fill="#adff2f" fill-opacity="0.13"/><path d="M89.4 204.0L90.9 206.6L87.9 206.6Z" fill="#adff2f" fill-opacity="0.13"/><path d="M106.9 198.5L108.4 201.2L105.4 201.2Z" fill="#adff2f" fill-opacity="0.13"/><circle cx="104.7" cy="204.9" r="1.25" fill="#adff2f" fill-opacity="0.13"/><circle cx="102.8" cy="205.5" r="1.25" fill="#adff2f" fill-opacity="0.13"/><path d="M107.6 202.3L109.1 204.9L106.1 204.9Z" fill="#adff2f" fill-opacity="0.13"/><path d="M105.1 201.9L106.6 204.6L103.6 204.6Z" fill="#adff2f" fill-opacity="0.13"/><path d="M104.2 201.0L105.7 203.7L102.7 203.7Z" fill="#adff2f" fill-opacity="0.13"/><circle cx="99.4" cy="208.6" r="1.25" fill="#adff2f" fill-opacity="0.13"/><circle cx="102.6" cy="204.2" r="1.25" fill="#adff2f" fill-opacity="0.13"/><path d="M93.4 201.4L94.9 204.0L91.9 204.0Z" fill="#adff2f" fill-opacity="0.13"/><path d="M101.1 205.1L102.6 207.8L99.6 207.8Z" fill="#adff2f" fill-opacity="0.13"/><circle cx="102.5" cy="205.7" r="1.25" fill="#adff2f" fill-opacity="0.13"/><circle cx="99.8" cy="207.7" r="1.25" fill="#adff2f" fill-opacity="0.13"/><path d="M97.7 201.8L99.2 204.5L96.2 204.5Z" fill="#adff2f" fill-opacity="0.13"/><circle cx="105.2" cy="204.6" r="1.25" fill="#adff2f" fill-opacity="0.13"/><path d="M98.4 201.7L99.9 204.4L96.9 204.4Z" fill="#adff2f" fill-opacity="0.13"/><circle cx="98.5" cy="206.1" r="1.25" fill="#adff2f" fill-opacity="0.13"/><path d="M102.1 200.2L103.6 202.8L100.6 202.8Z" fill="#adff2f" fill-opacity="0.13"/><path d="M102.5 203.4L104.0 206.0L101.0 206.0Z" fill="#adff2f" fill-opacity="0.13"/><path d="M94.2 205.0L95.7 207.6L92.7 207.6Z" fill="#adff2f" fill-opacity="0.13"/><path d="M98.4 202.3L99.9 204.9L96.9 204.9Z" fill="#adff2f" fill-opacity="0.13"/><path d="M104.6 205.9L106.1 208.6L103.1 208.6Z" fill="#adff2f" fill-opacity="0.13"/><path d="M96.0 204.1L97.5 206.8L94.5 206.8Z" fill="#adff2f" fill-opacity="0.13"/><circle cx="94.9" cy="210.1" r="1.25" fill="#adff2f" fill-opacity="0.13"/><path d="M97.1 205.9L98.6 208.5L95.6 208.5Z" fill="#adff2f" fill-opacity="0.13"/><path d="M96.2 205.0L97.7 207.6L94.7 207.6Z" fill="#adff2f" fill-opacity="0.13"/><circle cx="112.9" cy="198.4" r="1.25" fill="#adff2f" fill-opacity="0.13"/><path d="M97.5 204.2L99.0 206.9L96.0 206.9Z" fill="#adff2f" fill-opacity="0.13"/><path d="M99.5 201.5L101.0 204.1L98.0 204.1Z" fill="#adff2f" fill-opacity="0.13"/><path d="M112.5 202.8L114.0 205.5L111.0 205.5Z" fill="#adff2f" fill-opacity="0.13"/><circle cx="90.5" cy="206.9" r="1.25" fill="#adff2f" fill-opacity="0.13"/><path d="M90.0 206.0L91.5 208.6L88.5 208.6Z" fill="#adff2f" fill-opacity="0.13"/><circle cx="96.6" cy="205.0" r="1.25" fill="#adff2f" fill-opacity="0.13"/><circle cx="107.3" cy="204.7" r="1.25" fill="#adff2f" fill-opacity="0.13"/><path d="M91.9 199.4L93.4 202.0L90.4 202.0Z" fill="#adff2f" fill-opacity="0.13"/><path d="M106.9 204.5L108.4 207.2L105.4 207.2Z" fill="#adff2f" fill-opacity="0.13"/><circle cx="95.3" cy="206.7" r="1.25" fill="#adff2f" fill-opacity="0.13"/><circle cx="102.9" cy="206.0" r="1.25" fill="#adff2f" fill-opacity="0.13"/><path d="M86.9 202.7L88.4 205.4L85.4 205.4Z" fill="#adff2f" fill-opacity="0.13"/><path d="M105.2 204.5L106.7 207.2L103.7 207.2Z" fill="#adff2f" fill-opacity="0.13"/><path d="M105.1 197.2L106.6 199.9L103.6 199.9Z" fill="#adff2f" fill-opacity="0.13"/><path d="M101.0 204.1L102.5 206.8L99.5 206.8Z" fill="#adff2f" fill-opacity="0.13"/><circle cx="114.8" cy="202.0" r="1.25" fill="#adff2f" fill-opacity="0.13"/><path d="M98.1 203.2L99.6 205.8L96.6 205.8Z" fill="#adff2f" fill-opacity="0.13"/><path d="M105.1 201.8L106.6 204.5L103.6 204.5Z" fill="#adff2f" fill-opacity="0.13"/><circle cx="106.7" cy="202.6" r="1.25" fill="#adff2f" fill-opacity="0.13"/><circle cx="101.5" cy="203.3" r="1.25" fill="#adff2f" fill-opacity="0.13"/><path d="M100.9 201.4L102.4 204.0L99.4 204.0Z" fill="#adff2f" fill-opacity="0.13"/><path d="M90.7 205.8L92.2 208.4L89.2 208.4Z" fill="#adff2f" fill-opacity="0.13"/><circle cx="101.8" cy="203.3" r="1.25" fill="#adff2f" fill-opacity="0.13"/><circle cx="101.2" cy="206.8" r="1.25" fill="#adff2f" fill-opacity="0.13"/><path d="M94.3 202.9L95.8 205.6L92.8 205.6Z" fill="#adff2f" fill-opacity="0.13"/><circle cx="103.1" cy="205.7" r="1.25" fill="#adff2f" fill-opacity="0.13"/><circle cx="98.1" cy="199.8" r="1.25" fill="#adff2f" fill-opacity="0.13"/><path d="M107.2 203.6L108.7 206.2L105.7 206.2Z" fill="#adff2f" fill-opacity="0.13"/><circle cx="100.1" cy="204.0" r="1.25" fill="#adff2f" fill-opacity="0.13"/><path d="M101.5 202.0L103.0 204.6L100.0 204.6Z" fill="#adff2f" fill-opacity="0.13"/><path d="M94.1 201.5L95.6 204.1L92.6 204.1Z" fill="#adff2f" fill-opacity="0.13"/><circle cx="96.5" cy="203.3" r="1.25" fill="#adff2f" fill-opacity="0.13"/><path d="M93.3 204.7L94.8 207.3L91.8 207.3Z" fill="#adff2f" fill-opacity="0.13"/><circle cx="92.4" cy="206.3" r="1.25" fill="#adff2f" fill-opacity="0.13"/><path d="M94.1 204.0L95.6 206.6L92.6 206.6Z" fill="#adff2f" fill-opacity="0.13"/><circle cx="108.0" cy="204.8" r="1.25" fill="#adff2f" fill-opacity="0.13"/><circle cx="95.8" cy="204.8" r="1.25" fill="#adff2f" fill-opacity="0.13"/><path d="M100.9 199.0L102.4 201.6L99.4 201.6Z" fill="#adff2f" fill-opacity="0.13"/><circle cx="96.5" cy="205.1" r="1.25" fill="#adff2f" fill-opacity="0.13"/><path d="M97.3 203.3L98.8 205.9L95.8 205.9Z" fill="#adff2f" fill-opacity="0.13"/><path d="M104.3 204.7L105.8 207.3L102.8 207.3Z" fill="#adff2f" fill-opacity="0.13"/><circle cx="105.3" cy="205.8" r="1.25" fill="#adff2f" fill-opacity="0.13"/><path d="M98.3 203.0L99.8 205.7L96.8 205.7Z" fill="#adff2f" fill-opacity="0.13"/><path d="M98.4 202.3L99.9 205.0L96.9 205.0Z" fill="#adff2f" fill-opacity="0.13"/><circle cx="99.0" cy="200.7" r="1.25" fill="#adff2f" fill-opacity="0.13"/><path d="M98.1 203.0L99.6 205.7L96.6 205.7Z" fill="#adff2f" fill-opacity="0.13"/><path d="M94.4 203.1L95.9 205.8L92.9 205.8Z" fill="#adff2f" fill-opacity="0.13"/><circle cx="103.0" cy="204.1" r="1.25" fill="#adff2f" fill-opacity="0.13"/><circle cx="112.0" cy="198.2" r="1.25" fill="#adff2f" fill-opacity="0.13"/><circle cx="98.8" cy="200.4" r="1.25" fill="#adff2f" fill-opacity="0.13"/><circle cx="105.7" cy="210.5" r="1.25" fill="#adff2f" fill-opacity="0.13"/><path d="M85.5 203.7L87.0 206.4L84.0 206.4Z" fill="#adff2f" fill-opacity="0.13"/><path d="M103.0 202.2L104.5 204.9L101.5 204.9Z" fill="#adff2f" fill-opacity="0.13"/><circle cx="103.2" cy="199.3" r="1.25" fill="#adff2f" fill-opacity="0.13"/><circle cx="104.9" cy="205.3" r="1.25" fill="#adff2f" fill-opacity="0.13"/><circle cx="100.1" cy="203.2" r="1.25" fill="#adff2f" fill-opacity="0.13"/><circle cx="103.7" cy="203.4" r="1.25" fill="#adff2f" fill-opacity="0.13"/><path d="M101.3 201.8L102.8 204.4L99.8 204.4Z" fill="#adff2f" fill-opacity="0.13"/><path d="M87.0 203.3L88.5 206.0L85.5 206.0Z" fill="#adff2f" fill-opacity="0.13"/><path d="M101.2 204.7L102.7 207.4L99.7 207.4Z" fill="#adff2f" fill-opacity="0.13"/><circle cx="94.9" cy="204.7" r="1.25" fill="#adff2f" fill-opacity="0.13"/><path d="M103.6 203.2L105.1 205.9L102.1 205.9Z" fill="#adff2f" fill-opacity="0.13"/><path d="M107.2 207.4L108.7 210.0L105.7 210.0Z" fill="#adff2f" fill-opacity="0.13"/><circle cx="94.7" cy="200.3" r="1.25" fill="#adff2f" fill-opacity="0.13"/><circle cx="105.0" cy="208.0" r="1.25" fill="#adff2f" fill-opacity="0.13"/><path d="M105.3 204.7L106.8 207.4L103.8 207.4Z" fill="#adff2f" fill-opacity="0.13"/><circle cx="96.4" cy="203.1" r="1.25" fill="#adff2f" fill-opacity="0.13"/><circle cx="117.3" cy="201.4" r="1.25" fill="#adff2f" fill-opacity="0.13"/><path d="M101.1 200.0L102.6 202.7L99.6 202.7Z" fill="#adff2f" fill-opacity="0.13"/><path d="M127.0 207.2L128.5 209.8L125.5 209.8Z" fill="#adff2f" fill-opacity="0.13"/><circle cx="107.9" cy="202.2" r="1.25" fill="#adff2f" fill-opacity="0.13"/><path d="M113.4 200.4L114.9 203.0L111.9 203.0Z" fill="#adff2f" fill-opacity="0.13"/><circle cx="119.9" cy="203.6" r="1.25" fill="#adff2f" fill-opacity="0.13"/><circle cx="105.5" cy="207.7" r="1.25" fill="#adff2f" fill-opacity="0.13"/><circle cx="108.5" cy="204.7" r="1.25" fill="#adff2f" fill-opacity="0.13"/><circle cx="111.9" cy="203.2" r="1.25" fill="#adff2f" fill-opacity="0.13"/><path d="M113.9 200.5L115.4 203.1L112.4 203.1Z" fill="#adff2f" fill-opacity="0.13"/><path d="M100.9 196.8L102.4 199.4L99.4 199.4Z" fill="#adff2f" fill-opacity="0.13"/><circle cx="104.4" cy="202.2" r="1.25" fill="#adff2f" fill-opacity="0.13"/><path d="M111.9 202.6L113.4 205.2L110.4 205.2Z" fill="#adff2f" fill-opacity="0.13"/><circle cx="115.3" cy="204.2" r="1.25" fill="#adff2f" fill-opacity="0.13"/><path d="M107.2 200.6L108.7 203.3L105.7 203.3Z" fill="#adff2f" fill-opacity="0.13"/><path d="M99.3 202.3L100.8 205.0L97.8 205.0Z" fill="#adff2f" fill-opacity="0.13"/><path d="M114.9 203.8L116.4 206.4L113.4 206.4Z" fill="#adff2f" fill-opacity="0.13"/><path d="M111.3 202.0L112.8 204.6L109.8 204.6Z" fill="#adff2f" fill-opacity="0.13"/><circle cx="117.6" cy="203.9" r="1.25" fill="#adff2f" fill-opacity="0.13"/><circle cx="116.4" cy="205.4" r="1.25" fill="#adff2f" fill-opacity="0.13"/><circle cx="113.3" cy="207.5" r="1.25" fill="#adff2f" fill-opacity="0.13"/><path d="M108.6 201.6L110.1 204.2L107.1 204.2Z" fill="#adff2f" fill-opacity="0.13"/><path d="M107.2 200.4L108.7 203.0L105.7 203.0Z" fill="#adff2f" fill-opacity="0.13"/><path d="M121.3 206.9L122.8 209.5L119.8 209.5Z" fill="#adff2f" fill-opacity="0.13"/><circle cx="112.1" cy="205.5" r="1.25" fill="#adff2f" fill-opacity="0.13"/><circle cx="119.1" cy="206.0" r="1.25" fill="#adff2f" fill-opacity="0.13"/><circle cx="119.2" cy="200.4" r="1.25" fill="#adff2f" fill-opacity="0.13"/><path d="M108.2 203.8L109.7 206.4L106.7 206.4Z" fill="#adff2f" fill-opacity="0.13"/><path d="M120.6 202.4L122.1 205.1L119.1 205.1Z" fill="#adff2f" fill-opacity="0.13"/><path d="M106.8 201.6L108.3 204.3L105.3 204.3Z" fill="#adff2f" fill-opacity="0.13"/><circle cx="108.0" cy="201.8" r="1.25" fill="#adff2f" fill-opacity="0.13"/><path d="M121.0 200.5L122.5 203.1L119.5 203.1Z" fill="#adff2f" fill-opacity="0.13"/><path d="M112.1 208.3L113.6 210.9L110.6 210.9Z" fill="#adff2f" fill-opacity="0.13"/><path d="M119.1 203.1L120.6 205.8L117.6 205.8Z" fill="#adff2f" fill-opacity="0.13"/><circle cx="108.3" cy="205.2" r="1.25" fill="#adff2f" fill-opacity="0.13"/><path d="M121.7 203.8L123.2 206.4L120.2 206.4Z" fill="#adff2f" fill-opacity="0.13"/><circle cx="119.6" cy="204.0" r="1.25" fill="#adff2f" fill-opacity="0.13"/><path d="M115.1 201.8L116.6 204.4L113.6 204.4Z" fill="#adff2f" fill-opacity="0.13"/><circle cx="114.6" cy="207.4" r="1.25" fill="#adff2f" fill-opacity="0.13"/><circle cx="103.4" cy="204.1" r="1.25" fill="#adff2f" fill-opacity="0.13"/><path d="M113.4 200.8L114.9 203.5L111.9 203.5Z" fill="#adff2f" fill-opacity="0.13"/><path d="M110.2 204.6L111.7 207.2L108.7 207.2Z" fill="#adff2f" fill-opacity="0.13"/><circle cx="124.0" cy="205.3" r="1.25" fill="#adff2f" fill-opacity="0.13"/><path d="M114.0 198.2L115.5 200.8L112.5 200.8Z" fill="#adff2f" fill-opacity="0.13"/><circle cx="123.6" cy="203.9" r="1.25" fill="#adff2f" fill-opacity="0.13"/><path d="M111.8 199.4L113.3 202.0L110.3 202.0Z" fill="#adff2f" fill-opacity="0.13"/><path d="M111.7 199.5L113.2 202.1L110.2 202.1Z" fill="#adff2f" fill-opacity="0.13"/><circle cx="112.4" cy="205.2" r="1.25" fill="#adff2f" fill-opacity="0.13"/><path d="M112.2 203.2L113.7 205.8L110.7 205.8Z" fill="#adff2f" fill-opacity="0.13"/><circle cx="106.9" cy="208.0" r="1.25" fill="#adff2f" fill-opacity="0.13"/><circle cx="108.1" cy="199.2" r="1.25" fill="#adff2f" fill-opacity="0.13"/><circle cx="110.9" cy="202.0" r="1.25" fill="#adff2f" fill-opacity="0.13"/><path d="M105.9 201.6L107.4 204.3L104.4 204.3Z" fill="#adff2f" fill-opacity="0.13"/><circle cx="113.7" cy="200.8" r="1.25" fill="#adff2f" fill-opacity="0.13"/><path d="M111.2 206.3L112.7 208.9L109.7 208.9Z" fill="#adff2f" fill-opacity="0.13"/><circle cx="116.1" cy="203.5" r="1.25" fill="#adff2f" fill-opacity="0.13"/><path d="M112.8 202.1L114.3 204.7L111.3 204.7Z" fill="#adff2f" fill-opacity="0.13"/><path d="M111.7 204.4L113.2 207.0L110.2 207.0Z" fill="#adff2f" fill-opacity="0.13"/><circle cx="111.4" cy="197.5" r="1.25" fill="#adff2f" fill-opacity="0.13"/><path d="M111.9 200.0L113.4 202.7L110.4 202.7Z" fill="#adff2f" fill-opacity="0.13"/><circle cx="115.9" cy="202.2" r="1.25" fill="#adff2f" fill-opacity="0.13"/><path d="M112.9 208.3L114.4 210.9L111.4 210.9Z" fill="#adff2f" fill-opacity="0.13"/><circle cx="105.7" cy="201.2" r="1.25" fill="#adff2f" fill-opacity="0.13"/><path d="M103.5 196.2L105.0 198.8L102.0 198.8Z" fill="#adff2f" fill-opacity="0.13"/><circle cx="100.7" cy="205.3" r="1.25" fill="#adff2f" fill-opacity="0.13"/><circle cx="108.2" cy="199.1" r="1.25" fill="#adff2f" fill-opacity="0.13"/><circle cx="103.1" cy="205.9" r="1.25" fill="#adff2f" fill-opacity="0.13"/><path d="M107.3 201.6L108.8 204.2L105.8 204.2Z" fill="#adff2f" fill-opacity="0.13"/><circle cx="114.0" cy="207.6" r="1.25" fill="#adff2f" fill-opacity="0.13"/><circle cx="123.6" cy="206.4" r="1.25" fill="#adff2f" fill-opacity="0.13"/><path d="M112.9 202.9L114.4 205.5L111.4 205.5Z" fill="#adff2f" fill-opacity="0.13"/><path d="M122.8 205.9L124.3 208.6L121.3 208.6Z" fill="#adff2f" fill-opacity="0.13"/><circle cx="110.1" cy="205.3" r="1.25" fill="#adff2f" fill-opacity="0.13"/><path d="M113.7 202.5L115.2 205.1L112.2 205.1Z" fill="#adff2f" fill-opacity="0.13"/><circle cx="109.0" cy="200.5" r="1.25" fill="#adff2f" fill-opacity="0.13"/><path d="M108.8 198.3L110.3 201.0L107.3 201.0Z" fill="#adff2f" fill-opacity="0.13"/><path d="M119.3 203.6L120.8 206.3L117.8 206.3Z" fill="#adff2f" fill-opacity="0.13"/><path d="M104.8 206.4L106.3 209.0L103.3 209.0Z" fill="#adff2f" fill-opacity="0.13"/><circle cx="117.4" cy="198.7" r="1.25" fill="#adff2f" fill-opacity="0.13"/><circle cx="123.0" cy="205.9" r="1.25" fill="#adff2f" fill-opacity="0.13"/><path d="M124.4 198.7L125.9 201.4L122.9 201.4Z" fill="#adff2f" fill-opacity="0.13"/><circle cx="115.2" cy="205.0" r="1.25" fill="#adff2f" fill-opacity="0.13"/><path d="M113.2 202.8L114.7 205.5L111.7 205.5Z" fill="#adff2f" fill-opacity="0.13"/><circle cx="118.3" cy="199.8" r="1.25" fill="#adff2f" fill-opacity="0.13"/><circle cx="104.5" cy="200.5" r="1.25" fill="#adff2f" fill-opacity="0.13"/><path d="M108.7 200.9L110.2 203.5L107.2 203.5Z" fill="#adff2f" fill-opacity="0.13"/><path d="M114.2 203.1L115.7 205.7L112.7 205.7Z" fill="#adff2f" fill-opacity="0.13"/><circle cx="112.2" cy="202.2" r="1.25" fill="#adff2f" fill-opacity="0.13"/><path d="M109.3 205.1L110.8 207.7L107.8 207.7Z" fill="#adff2f" fill-opacity="0.13"/><circle cx="116.6" cy="204.1" r="1.25" fill="#adff2f" fill-opacity="0.13"/><path d="M110.1 206.7L111.6 209.3L108.6 209.3Z" fill="#adff2f" fill-opacity="0.13"/><path d="M108.4 204.3L109.9 206.9L106.9 206.9Z" fill="#adff2f" fill-opacity="0.13"/><circle cx="118.9" cy="203.1" r="1.25" fill="#adff2f" fill-opacity="0.13"/><path d="M117.0 199.3L118.5 201.9L115.5 201.9Z" fill="#adff2f" fill-opacity="0.13"/><circle cx="118.1" cy="204.4" r="1.25" fill="#adff2f" fill-opacity="0.13"/><path d="M102.5 204.5L104.0 207.1L101.0 207.1Z" fill="#adff2f" fill-opacity="0.13"/><circle cx="106.6" cy="207.6" r="1.25" fill="#adff2f" fill-opacity="0.13"/><path d="M107.9 202.1L109.4 204.7L106.4 204.7Z" fill="#adff2f" fill-opacity="0.13"/><circle cx="113.7" cy="203.1" r="1.25" fill="#adff2f" fill-opacity="0.13"/><path d="M113.6 200.9L115.1 203.5L112.1 203.5Z" fill="#adff2f" fill-opacity="0.13"/><circle cx="116.0" cy="203.9" r="1.25" fill="#adff2f" fill-opacity="0.13"/><circle cx="113.3" cy="196.5" r="1.25" fill="#adff2f" fill-opacity="0.13"/><path d="M119.0 202.3L120.5 204.9L117.5 204.9Z" fill="#adff2f" fill-opacity="0.13"/><path d="M101.3 203.0L102.8 205.6L99.8 205.6Z" fill="#adff2f" fill-opacity="0.13"/><path d="M114.8 205.2L116.3 207.9L113.3 207.9Z" fill="#adff2f" fill-opacity="0.13"/><circle cx="105.5" cy="208.4" r="1.25" fill="#adff2f" fill-opacity="0.13"/><path d="M111.0 208.9L112.5 211.6L109.5 211.6Z" fill="#adff2f" fill-opacity="0.13"/><circle cx="111.1" cy="205.9" r="1.25" fill="#adff2f" fill-opacity="0.13"/><path d="M109.8 199.5L111.3 202.1L108.3 202.1Z" fill="#adff2f" fill-opacity="0.13"/><path d="M118.6 204.7L120.1 207.3L117.1 207.3Z" fill="#adff2f" fill-opacity="0.13"/><circle cx="121.2" cy="206.0" r="1.25" fill="#adff2f" fill-opacity="0.13"/><path d="M108.6 198.0L110.1 200.7L107.1 200.7Z" fill="#adff2f" fill-opacity="0.13"/><circle cx="108.1" cy="202.3" r="1.25" fill="#adff2f" fill-opacity="0.13"/><path d="M107.1 204.1L108.6 206.8L105.6 206.8Z" fill="#adff2f" fill-opacity="0.13"/><circle cx="114.0" cy="203.2" r="1.25" fill="#adff2f" fill-opacity="0.13"/><path d="M113.0 202.0L114.5 204.6L111.5 204.6Z" fill="#adff2f" fill-opacity="0.13"/><circle cx="113.3" cy="206.0" r="1.25" fill="#adff2f" fill-opacity="0.13"/><circle cx="117.8" cy="202.0" r="1.25" fill="#adff2f" fill-opacity="0.13"/><circle cx="103.0" cy="208.1" r="1.25" fill="#adff2f" fill-opacity="0.13"/><circle cx="112.7" cy="207.0" r="1.25" fill="#adff2f" fill-opacity="0.13"/><path d="M102.1 201.8L103.6 204.5L100.6 204.5Z" fill="#adff2f" fill-opacity="0.13"/><path d="M112.2 198.5L113.7 201.2L110.7 201.2Z" fill="#adff2f" fill-opacity="0.13"/><circle cx="108.9" cy="206.0" r="1.25" fill="#adff2f" fill-opacity="0.13"/><path d="M118.5 206.5L120.0 209.2L117.0 209.2Z" fill="#adff2f" fill-opacity="0.13"/><circle cx="106.8" cy="200.4" r="1.25" fill="#adff2f" fill-opacity="0.13"/><path d="M115.1 204.9L116.6 207.5L113.6 207.5Z" fill="#adff2f" fill-opacity="0.13"/><path d="M113.2 198.9L114.7 201.5L111.7 201.5Z" fill="#adff2f" fill-opacity="0.13"/><circle cx="116.7" cy="206.0" r="1.25" fill="#adff2f" fill-opacity="0.13"/><circle cx="115.3" cy="202.6" r="1.25" fill="#adff2f" fill-opacity="0.13"/><circle cx="113.8" cy="206.1" r="1.25" fill="#adff2f" fill-opacity="0.13"/><path d="M108.6 197.5L110.1 200.2L107.1 200.2Z" fill="#adff2f" fill-opacity="0.13"/><path d="M114.0 203.7L115.5 206.3L112.5 206.3Z" fill="#adff2f" fill-opacity="0.13"/><path d="M112.1 204.8L113.6 207.5L110.6 207.5Z" fill="#adff2f" fill-opacity="0.13"/><circle cx="108.5" cy="203.9" r="1.25" fill="#adff2f" fill-opacity="0.13"/><circle cx="110.2" cy="205.6" r="1.25" fill="#adff2f" fill-opacity="0.13"/><path d="M121.6 201.5L123.1 204.1L120.1 204.1Z" fill="#adff2f" fill-opacity="0.13"/><circle cx="124.3" cy="207.8" r="1.25" fill="#adff2f" fill-opacity="0.13"/><path d="M116.7 203.9L118.2 206.5L115.2 206.5Z" fill="#adff2f" fill-opacity="0.13"/><circle cx="122.6" cy="203.2" r="1.25" fill="#adff2f" fill-opacity="0.13"/><circle cx="111.3" cy="201.2" r="1.25" fill="#adff2f" fill-opacity="0.13"/><path d="M114.8 206.0L116.3 208.6L113.3 208.6Z" fill="#adff2f" fill-opacity="0.13"/><circle cx="115.2" cy="205.0" r="1.25" fill="#adff2f" fill-opacity="0.13"/><circle cx="110.8" cy="204.5" r="1.25" fill="#adff2f" fill-opacity="0.13"/><path d="M103.4 205.5L104.9 208.1L101.9 208.1Z" fill="#adff2f" fill-opacity="0.13"/><path d="M109.5 199.5L111.0 202.1L108.0 202.1Z" fill="#adff2f" fill-opacity="0.13"/><path d="M107.5 200.3L109.0 203.0L106.0 203.0Z" fill="#adff2f" fill-opacity="0.13"/><path d="M117.1 205.1L118.6 207.8L115.6 207.8Z" fill="#adff2f" fill-opacity="0.13"/><circle cx="103.9" cy="206.7" r="1.25" fill="#adff2f" fill-opacity="0.13"/><path d="M117.3 200.7L118.8 203.3L115.8 203.3Z" fill="#adff2f" fill-opacity="0.13"/><circle cx="103.1" cy="202.3" r="1.25" fill="#adff2f" fill-opacity="0.13"/><path d="M108.2 203.5L109.7 206.1L106.7 206.1Z" fill="#adff2f" fill-opacity="0.13"/><path d="M109.9 197.0L111.4 199.6L108.4 199.6Z" fill="#adff2f" fill-opacity="0.13"/><circle cx="113.4" cy="199.8" r="1.25" fill="#adff2f" fill-opacity="0.13"/><path d="M117.4 199.0L118.9 201.6L115.9 201.6Z" fill="#adff2f" fill-opacity="0.13"/><circle cx="107.8" cy="201.8" r="1.25" fill="#adff2f" fill-opacity="0.13"/><circle cx="108.7" cy="207.6" r="1.25" fill="#adff2f" fill-opacity="0.13"/><circle cx="117.1" cy="205.5" r="1.25" fill="#adff2f" fill-opacity="0.13"/><path d="M113.9 198.2L115.4 200.8L112.4 200.8Z" fill="#adff2f" fill-opacity="0.13"/><path d="M108.9 201.0L110.4 203.7L107.4 203.7Z" fill="#adff2f" fill-opacity="0.13"/><circle cx="106.1" cy="205.6" r="1.25" fill="#adff2f" fill-opacity="0.13"/><path d="M107.6 200.6L109.1 203.3L106.1 203.3Z" fill="#adff2f" fill-opacity="0.13"/><circle cx="105.7" cy="198.6" r="1.25" fill="#adff2f" fill-opacity="0.13"/><path d="M115.6 205.9L117.1 208.5L114.1 208.5Z" fill="#adff2f" fill-opacity="0.13"/><circle cx="113.0" cy="201.3" r="1.25" fill="#adff2f" fill-opacity="0.13"/><path d="M95.8 203.4L97.3 206.0L94.3 206.0Z" fill="#adff2f" fill-opacity="0.13"/><path d="M119.3 203.0L120.8 205.6L117.8 205.6Z" fill="#adff2f" fill-opacity="0.13"/><circle cx="117.6" cy="207.8" r="1.25" fill="#adff2f" fill-opacity="0.13"/><path d="M118.8 201.0L120.3 203.7L117.3 203.7Z" fill="#adff2f" fill-opacity="0.13"/><path d="M118.3 204.3L119.8 207.0L116.8 207.0Z" fill="#adff2f" fill-opacity="0.13"/><circle cx="102.8" cy="203.2" r="1.25" fill="#adff2f" fill-opacity="0.13"/><path d="M103.5 202.4L105.0 205.0L102.0 205.0Z" fill="#adff2f" fill-opacity="0.13"/><circle cx="115.5" cy="201.0" r="1.25" fill="#adff2f" fill-opacity="0.13"/><circle cx="99.7" cy="207.9" r="1.25" fill="#adff2f" fill-opacity="0.13"/><path d="M114.3 206.3L115.8 209.0L112.8 209.0Z" fill="#adff2f" fill-opacity="0.13"/><path d="M104.1 205.5L105.6 208.2L102.6 208.2Z" fill="#adff2f" fill-opacity="0.13"/><path d="M124.4 207.5L125.9 210.1L122.9 210.1Z" fill="#adff2f" fill-opacity="0.13"/><circle cx="110.7" cy="204.8" r="1.25" fill="#adff2f" fill-opacity="0.13"/><path d="M111.1 205.1L112.6 207.8L109.6 207.8Z" fill="#adff2f" fill-opacity="0.13"/><path d="M118.2 202.5L119.7 205.1L116.7 205.1Z" fill="#adff2f" fill-opacity="0.13"/><circle cx="103.8" cy="206.2" r="1.25" fill="#adff2f" fill-opacity="0.13"/><path d="M109.2 204.2L110.7 206.8L107.7 206.8Z" fill="#adff2f" fill-opacity="0.13"/><path d="M113.6 206.8L115.1 209.4L112.1 209.4Z" fill="#adff2f" fill-opacity="0.13"/><path d="M118.8 201.0L120.3 203.6L117.3 203.6Z" fill="#adff2f" fill-opacity="0.13"/><circle cx="114.1" cy="208.7" r="1.25" fill="#adff2f" fill-opacity="0.13"/><circle cx="108.8" cy="205.3" r="1.25" fill="#adff2f" fill-opacity="0.13"/><path d="M119.1 205.6L120.6 208.2L117.6 208.2Z" fill="#adff2f" fill-opacity="0.13"/><path d="M115.1 198.8L116.6 201.4L113.6 201.4Z" fill="#adff2f" fill-opacity="0.13"/><path d="M104.4 203.3L105.9 206.0L102.9 206.0Z" fill="#adff2f" fill-opacity="0.13"/><path d="M114.3 209.2L115.8 211.9L112.8 211.9Z" fill="#adff2f" fill-opacity="0.13"/><path d="M106.8 205.6L108.3 208.3L105.3 208.3Z" fill="#adff2f" fill-opacity="0.13"/><path d="M116.6 197.8L118.1 200.4L115.1 200.4Z" fill="#adff2f" fill-opacity="0.13"/><circle cx="107.1" cy="204.6" r="1.25" fill="#adff2f" fill-opacity="0.13"/><circle cx="109.0" cy="203.7" r="1.25" fill="#adff2f" fill-opacity="0.13"/><circle cx="114.8" cy="201.7" r="1.25" fill="#adff2f" fill-opacity="0.13"/><path d="M114.8 200.6L116.3 203.3L113.3 203.3Z" fill="#adff2f" fill-opacity="0.13"/><circle cx="108.7" cy="205.5" r="1.25" fill="#adff2f" fill-opacity="0.13"/><path d="M108.6 203.3L110.1 205.9L107.1 205.9Z" fill="#adff2f" fill-opacity="0.13"/><circle cx="121.6" cy="203.8" r="1.25" fill="#adff2f" fill-opacity="0.13"/><circle cx="111.1" cy="206.0" r="1.25" fill="#adff2f" fill-opacity="0.13"/><circle cx="109.8" cy="207.0" r="1.25" fill="#adff2f" fill-opacity="0.13"/><path d="M104.3 204.3L105.8 207.0L102.8 207.0Z" fill="#adff2f" fill-opacity="0.13"/><circle cx="108.9" cy="201.9" r="1.25" fill="#adff2f" fill-opacity="0.13"/><path d="M122.6 199.8L124.1 202.4L121.1 202.4Z" fill="#adff2f" fill-opacity="0.13"/><path d="M122.5 203.9L124.0 206.5L121.0 206.5Z" fill="#adff2f" fill-opacity="0.13"/><path d="M120.7 199.5L122.2 202.2L119.2 202.2Z" fill="#adff2f" fill-opacity="0.13"/><path d="M119.2 206.1L120.7 208.8L117.7 208.8Z" fill="#adff2f" fill-opacity="0.13"/><circle cx="111.3" cy="203.7" r="1.25" fill="#adff2f" fill-opacity="0.13"/><path d="M126.7 202.5L128.2 205.1L125.2 205.1Z" fill="#adff2f" fill-opacity="0.13"/><circle cx="109.5" cy="202.4" r="1.25" fill="#adff2f" fill-opacity="0.13"/><path d="M114.7 203.2L116.2 205.9L113.2 205.9Z" fill="#adff2f" fill-opacity="0.13"/><circle cx="113.1" cy="208.6" r="1.25" fill="#adff2f" fill-opacity="0.13"/><path d="M110.0 203.8L111.5 206.4L108.5 206.4Z" fill="#adff2f" fill-opacity="0.13"/><circle cx="120.8" cy="201.0" r="1.25" fill="#adff2f" fill-opacity="0.13"/><circle cx="118.2" cy="208.8" r="1.25" fill="#adff2f" fill-opacity="0.13"/><circle cx="103.9" cy="201.3" r="1.25" fill="#adff2f" fill-opacity="0.13"/><path d="M105.8 197.6L107.3 200.3L104.3 200.3Z" fill="#adff2f" fill-opacity="0.13"/><path d="M114.7 197.3L116.2 200.0L113.2 200.0Z" fill="#adff2f" fill-opacity="0.13"/><circle cx="115.0" cy="207.8" r="1.25" fill="#adff2f" fill-opacity="0.13"/><circle cx="102.3" cy="203.4" r="1.25" fill="#adff2f" fill-opacity="0.13"/><path d="M100.5 204.9L102.0 207.5L99.0 207.5Z" fill="#adff2f" fill-opacity="0.13"/><circle cx="107.6" cy="203.4" r="1.25" fill="#adff2f" fill-opacity="0.13"/><circle cx="112.3" cy="205.5" r="1.25" fill="#adff2f" fill-opacity="0.13"/><circle cx="109.9" cy="204.1" r="1.25" fill="#adff2f" fill-opacity="0.13"/><path d="M108.7 202.8L110.2 205.5L107.2 205.5Z" fill="#adff2f" fill-opacity="0.13"/><circle cx="105.0" cy="204.4" r="1.25" fill="#adff2f" fill-opacity="0.13"/><path d="M100.4 201.4L101.9 204.1L98.9 204.1Z" fill="#adff2f" fill-opacity="0.13"/><circle cx="123.5" cy="203.9" r="1.25" fill="#adff2f" fill-opacity="0.13"/><path d="M104.4 203.3L105.9 206.0L102.9 206.0Z" fill="#adff2f" fill-opacity="0.13"/><circle cx="106.2" cy="199.7" r="1.25" fill="#adff2f" fill-opacity="0.13"/><path d="M107.6 204.5L109.1 207.2L106.1 207.2Z" fill="#adff2f" fill-opacity="0.13"/><path d="M148.8 207.7L150.3 210.4L147.3 210.4Z" fill="#adff2f" fill-opacity="0.13"/><path d="M139.1 205.1L140.6 207.8L137.6 207.8Z" fill="#adff2f" fill-opacity="0.13"/><path d="M120.9 197.5L122.4 200.1L119.4 200.1Z" fill="#adff2f" fill-opacity="0.13"/><circle cx="147.9" cy="200.0" r="1.25" fill="#adff2f" fill-opacity="0.13"/><circle cx="129.9" cy="209.0" r="1.25" fill="#adff2f" fill-opacity="0.13"/><path d="M134.5 201.8L136.0 204.5L133.0 204.5Z" fill="#adff2f" fill-opacity="0.13"/><path d="M146.9 208.9L148.4 211.6L145.4 211.6Z" fill="#adff2f" fill-opacity="0.13"/><path d="M138.8 203.8L140.3 206.5L137.3 206.5Z" fill="#adff2f" fill-opacity="0.13"/><path d="M130.2 205.0L131.7 207.6L128.7 207.6Z" fill="#adff2f" fill-opacity="0.13"/><path d="M134.2 199.4L135.7 202.0L132.7 202.0Z" fill="#adff2f" fill-opacity="0.13"/><path d="M135.8 202.8L137.3 205.4L134.3 205.4Z" fill="#adff2f" fill-opacity="0.13"/><circle cx="133.1" cy="201.1" r="1.25" fill="#adff2f" fill-opacity="0.13"/><circle cx="132.7" cy="196.6" r="1.25" fill="#adff2f" fill-opacity="0.13"/><circle cx="128.8" cy="201.4" r="1.25" fill="#adff2f" fill-opacity="0.13"/><path d="M144.8 198.3L146.3 201.0L143.3 201.0Z" fill="#adff2f" fill-opacity="0.13"/><path d="M128.2 205.2L129.7 207.9L126.7 207.9Z" fill="#adff2f" fill-opacity="0.13"/><circle cx="135.2" cy="210.0" r="1.25" fill="#adff2f" fill-opacity="0.13"/><circle cx="143.8" cy="203.0" r="1.25" fill="#adff2f" fill-opacity="0.13"/><circle cx="129.9" cy="202.6" r="1.25" fill="#adff2f" fill-opacity="0.13"/><circle cx="137.6" cy="207.2" r="1.25" fill="#adff2f" fill-opacity="0.13"/><path d="M139.0 202.7L140.5 205.3L137.5 205.3Z" fill="#adff2f" fill-opacity="0.13"/><circle cx="141.7" cy="202.8" r="1.25" fill="#adff2f" fill-opacity="0.13"/><circle cx="93.5" cy="157.6" r="1.25" fill="#adff2f" fill-opacity="0.13"/><circle cx="93.2" cy="162.8" r="1.25" fill="#adff2f" fill-opacity="0.13"/><path d="M92.8 160.3L94.3 162.9L91.3 162.9Z" fill="#adff2f" fill-opacity="0.13"/><circle cx="94.1" cy="158.1" r="1.25" fill="#adff2f" fill-opacity="0.13"/><path d="M89.1 155.2L90.6 157.9L87.6 157.9Z" fill="#adff2f" fill-opacity="0.13"/><path d="M94.0 156.2L95.5 158.8L92.5 158.8Z" fill="#adff2f" fill-opacity="0.13"/><circle cx="88.9" cy="159.4" r="1.25" fill="#adff2f" fill-opacity="0.13"/><circle cx="90.3" cy="157.2" r="1.25" fill="#adff2f" fill-opacity="0.13"/><circle cx="90.6" cy="159.9" r="1.25" fill="#adff2f" fill-opacity="0.13"/><path d="M90.0 157.1L91.5 159.8L88.5 159.8Z" fill="#adff2f" fill-opacity="0.13"/><circle cx="91.4" cy="160.3" r="1.25" fill="#adff2f" fill-opacity="0.13"/><circle cx="91.6" cy="163.5" r="1.25" fill="#adff2f" fill-opacity="0.13"/><circle cx="92.1" cy="152.0" r="1.25" fill="#adff2f" fill-opacity="0.13"/><circle cx="90.1" cy="159.5" r="1.25" fill="#adff2f" fill-opacity="0.13"/><circle cx="93.1" cy="154.4" r="1.25" fill="#adff2f" fill-opacity="0.13"/><circle cx="89.7" cy="162.0" r="1.25" fill="#adff2f" fill-opacity="0.13"/><circle cx="90.5" cy="167.4" r="1.25" fill="#adff2f" fill-opacity="0.13"/><path d="M90.3 165.9L91.8 168.5L88.8 168.5Z" fill="#adff2f" fill-opacity="0.13"/><circle cx="87.9" cy="155.8" r="1.25" fill="#adff2f" fill-opacity="0.13"/><circle cx="94.1" cy="163.1" r="1.25" fill="#adff2f" fill-opacity="0.13"/><circle cx="92.4" cy="162.5" r="1.25" fill="#adff2f" fill-opacity="0.13"/><path d="M92.4 154.8L93.9 157.4L90.9 157.4Z" fill="#adff2f" fill-opacity="0.13"/><circle cx="93.5" cy="159.0" r="1.25" fill="#adff2f" fill-opacity="0.13"/><circle cx="93.6" cy="161.8" r="1.25" fill="#adff2f" fill-opacity="0.13"/><circle cx="86.8" cy="158.8" r="1.25" fill="#adff2f" fill-opacity="0.13"/><path d="M93.9 159.0L95.4 161.6L92.4 161.6Z" fill="#adff2f" fill-opacity="0.13"/><circle cx="90.4" cy="164.1" r="1.25" fill="#adff2f" fill-opacity="0.13"/><circle cx="90.3" cy="160.5" r="1.25" fill="#adff2f" fill-opacity="0.13"/><path d="M91.5 161.5L93.0 164.1L90.0 164.1Z" fill="#adff2f" fill-opacity="0.13"/><circle cx="94.8" cy="161.0" r="1.25" fill="#adff2f" fill-opacity="0.13"/><path d="M95.6 167.0L97.1 169.7L94.1 169.7Z" fill="#adff2f" fill-opacity="0.13"/><path d="M95.2 163.8L96.7 166.5L93.7 166.5Z" fill="#adff2f" fill-opacity="0.13"/><path d="M91.6 161.4L93.1 164.0L90.1 164.0Z" fill="#adff2f" fill-opacity="0.13"/><path d="M91.0 157.7L92.5 160.4L89.5 160.4Z" fill="#adff2f" fill-opacity="0.13"/><path d="M91.1 158.0L92.6 160.7L89.6 160.7Z" fill="#adff2f" fill-opacity="0.13"/><circle cx="95.1" cy="163.1" r="1.25" fill="#adff2f" fill-opacity="0.13"/><circle cx="90.3" cy="154.2" r="1.25" fill="#adff2f" fill-opacity="0.13"/><circle cx="91.2" cy="160.6" r="1.25" fill="#adff2f" fill-opacity="0.13"/><path d="M88.8 156.9L90.3 159.6L87.3 159.6Z" fill="#adff2f" fill-opacity="0.13"/><circle cx="86.1" cy="167.7" r="1.25" fill="#adff2f" fill-opacity="0.13"/><circle cx="91.1" cy="174.4" r="1.25" fill="#adff2f" fill-opacity="0.13"/><circle cx="91.2" cy="161.9" r="1.25" fill="#adff2f" fill-opacity="0.13"/><circle cx="94.6" cy="161.5" r="1.25" fill="#adff2f" fill-opacity="0.13"/><circle cx="91.7" cy="160.6" r="1.25" fill="#adff2f" fill-opacity="0.13"/><path d="M89.9 168.5L91.4 171.1L88.4 171.1Z" fill="#adff2f" fill-opacity="0.13"/><path d="M93.6 167.7L95.1 170.3L92.1 170.3Z" fill="#adff2f" fill-opacity="0.13"/><circle cx="90.5" cy="163.0" r="1.25" fill="#adff2f" fill-opacity="0.13"/><circle cx="89.3" cy="168.0" r="1.25" fill="#adff2f" fill-opacity="0.13"/><path d="M88.1 165.1L89.6 167.8L86.6 167.8Z" fill="#adff2f" fill-opacity="0.13"/><circle cx="93.8" cy="167.7" r="1.25" fill="#adff2f" fill-opacity="0.13"/><circle cx="89.1" cy="168.6" r="1.25" fill="#adff2f" fill-opacity="0.13"/><circle cx="89.7" cy="159.8" r="1.25" fill="#adff2f" fill-opacity="0.13"/><path d="M88.3 167.8L89.8 170.4L86.8 170.4Z" fill="#adff2f" fill-opacity="0.13"/><path d="M95.1 156.3L96.6 158.9L93.6 158.9Z" fill="#adff2f" fill-opacity="0.13"/><path d="M89.6 160.2L91.1 162.9L88.1 162.9Z" fill="#adff2f" fill-opacity="0.13"/><path d="M97.1 162.7L98.6 165.3L95.6 165.3Z" fill="#adff2f" fill-opacity="0.13"/><circle cx="90.1" cy="154.9" r="1.25" fill="#adff2f" fill-opacity="0.13"/><path d="M89.8 167.2L91.3 169.8L88.3 169.8Z" fill="#adff2f" fill-opacity="0.13"/><circle cx="95.6" cy="159.1" r="1.25" fill="#adff2f" fill-opacity="0.13"/><path d="M89.7 159.4L91.2 162.0L88.2 162.0Z" fill="#adff2f" fill-opacity="0.13"/><path d="M87.0 167.3L88.5 169.9L85.5 169.9Z" fill="#adff2f" fill-opacity="0.13"/><path d="M88.8 167.1L90.3 169.7L87.3 169.7Z" fill="#adff2f" fill-opacity="0.13"/><path d="M87.4 157.0L88.9 159.7L85.9 159.7Z" fill="#adff2f" fill-opacity="0.13"/><circle cx="92.0" cy="158.7" r="1.25" fill="#adff2f" fill-opacity="0.13"/><circle cx="93.1" cy="161.6" r="1.25" fill="#adff2f" fill-opacity="0.13"/><path d="M88.6 165.1L90.1 167.8L87.1 167.8Z" fill="#adff2f" fill-opacity="0.13"/><path d="M93.2 151.1L94.7 153.8L91.7 153.8Z" fill="#adff2f" fill-opacity="0.13"/><path d="M95.5 161.1L97.0 163.7L94.0 163.7Z" fill="#adff2f" fill-opacity="0.13"/><circle cx="93.0" cy="153.1" r="1.25" fill="#adff2f" fill-opacity="0.13"/><path d="M89.6 160.1L91.1 162.8L88.1 162.8Z" fill="#adff2f" fill-opacity="0.13"/><circle cx="93.8" cy="154.5" r="1.25" fill="#adff2f" fill-opacity="0.13"/><circle cx="89.3" cy="154.2" r="1.25" fill="#adff2f" fill-opacity="0.13"/><path d="M90.7 162.8L92.2 165.4L89.2 165.4Z" fill="#adff2f" fill-opacity="0.13"/><circle cx="87.4" cy="161.7" r="1.25" fill="#adff2f" fill-opacity="0.13"/><path d="M92.5 167.6L94.0 170.3L91.0 170.3Z" fill="#adff2f" fill-opacity="0.13"/><circle cx="92.8" cy="160.3" r="1.25" fill="#adff2f" fill-opacity="0.13"/><path d="M88.6 158.0L90.1 160.6L87.1 160.6Z" fill="#adff2f" fill-opacity="0.13"/><path d="M89.8 162.4L91.3 165.0L88.3 165.0Z" fill="#adff2f" fill-opacity="0.13"/><circle cx="91.2" cy="170.2" r="1.25" fill="#adff2f" fill-opacity="0.13"/><path d="M92.0 155.7L93.5 158.3L90.5 158.3Z" fill="#adff2f" fill-opacity="0.13"/><path d="M94.9 163.5L96.4 166.1L93.4 166.1Z" fill="#adff2f" fill-opacity="0.13"/><circle cx="91.5" cy="159.1" r="1.25" fill="#adff2f" fill-opacity="0.13"/><circle cx="87.0" cy="159.9" r="1.25" fill="#adff2f" fill-opacity="0.13"/><circle cx="93.4" cy="157.8" r="1.25" fill="#adff2f" fill-opacity="0.13"/><path d="M88.3 163.3L89.8 166.0L86.8 166.0Z" fill="#adff2f" fill-opacity="0.13"/><path d="M91.9 163.4L93.4 166.1L90.4 166.1Z" fill="#adff2f" fill-opacity="0.13"/><circle cx="92.8" cy="168.2" r="1.25" fill="#adff2f" fill-opacity="0.13"/><circle cx="89.4" cy="168.0" r="1.25" fill="#adff2f" fill-opacity="0.13"/><circle cx="89.0" cy="166.8" r="1.25" fill="#adff2f" fill-opacity="0.13"/><path d="M91.7 161.8L93.2 164.5L90.2 164.5Z" fill="#adff2f" fill-opacity="0.13"/><circle cx="93.5" cy="161.3" r="1.25" fill="#adff2f" fill-opacity="0.13"/><path d="M93.9 163.7L95.4 166.3L92.4 166.3Z" fill="#adff2f" fill-opacity="0.13"/><circle cx="91.6" cy="159.7" r="1.25" fill="#adff2f" fill-opacity="0.13"/><path d="M89.6 159.4L91.1 162.0L88.1 162.0Z" fill="#adff2f" fill-opacity="0.13"/><path d="M90.8 161.0L92.3 163.7L89.3 163.7Z" fill="#adff2f" fill-opacity="0.13"/><circle cx="98.2" cy="162.0" r="1.25" fill="#adff2f" fill-opacity="0.13"/><path d="M93.1 156.1L94.6 158.7L91.6 158.7Z" fill="#adff2f" fill-opacity="0.13"/><circle cx="89.7" cy="161.8" r="1.25" fill="#adff2f" fill-opacity="0.13"/><path d="M91.7 155.9L93.2 158.6L90.2 158.6Z" fill="#adff2f" fill-opacity="0.13"/><path d="M95.0 156.5L96.5 159.1L93.5 159.1Z" fill="#adff2f" fill-opacity="0.13"/><path d="M93.8 148.9L95.3 151.6L92.3 151.6Z" fill="#adff2f" fill-opacity="0.13"/><circle cx="91.3" cy="163.8" r="1.25" fill="#adff2f" fill-opacity="0.13"/><circle cx="91.7" cy="165.0" r="1.25" fill="#adff2f" fill-opacity="0.13"/><circle cx="91.9" cy="162.9" r="1.25" fill="#adff2f" fill-opacity="0.13"/><path d="M86.9 159.8L88.4 162.5L85.4 162.5Z" fill="#adff2f" fill-opacity="0.13"/><circle cx="85.9" cy="168.1" r="1.25" fill="#adff2f" fill-opacity="0.13"/><circle cx="92.0" cy="161.2" r="1.25" fill="#adff2f" fill-opacity="0.13"/><circle cx="89.4" cy="160.8" r="1.25" fill="#adff2f" fill-opacity="0.13"/><path d="M95.5 166.8L97.0 169.4L94.0 169.4Z" fill="#adff2f" fill-opacity="0.13"/><circle cx="91.2" cy="168.5" r="1.25" fill="#adff2f" fill-opacity="0.13"/><path d="M87.6 153.8L89.1 156.5L86.1 156.5Z" fill="#adff2f" fill-opacity="0.13"/><circle cx="90.2" cy="159.0" r="1.25" fill="#adff2f" fill-opacity="0.13"/><path d="M90.0 162.4L91.5 165.1L88.5 165.1Z" fill="#adff2f" fill-opacity="0.13"/><circle cx="98.3" cy="156.0" r="1.25" fill="#adff2f" fill-opacity="0.13"/><circle cx="91.4" cy="163.7" r="1.25" fill="#adff2f" fill-opacity="0.13"/><path d="M91.2 165.2L92.7 167.9L89.7 167.9Z" fill="#adff2f" fill-opacity="0.13"/><circle cx="95.4" cy="154.7" r="1.25" fill="#adff2f" fill-opacity="0.13"/><circle cx="91.7" cy="161.1" r="1.25" fill="#adff2f" fill-opacity="0.13"/><circle cx="92.1" cy="155.0" r="1.25" fill="#adff2f" fill-opacity="0.13"/><path d="M87.3 152.3L88.8 154.9L85.8 154.9Z" fill="#adff2f" fill-opacity="0.13"/><path d="M92.5 161.2L94.0 163.8L91.0 163.8Z" fill="#adff2f" fill-opacity="0.13"/><circle cx="91.5" cy="151.5" r="1.25" fill="#adff2f" fill-opacity="0.13"/><path d="M90.4 157.9L91.9 160.5L88.9 160.5Z" fill="#adff2f" fill-opacity="0.13"/><circle cx="88.0" cy="159.9" r="1.25" fill="#adff2f" fill-opacity="0.13"/><circle cx="92.9" cy="164.2" r="1.25" fill="#adff2f" fill-opacity="0.13"/><circle cx="91.2" cy="164.9" r="1.25" fill="#adff2f" fill-opacity="0.13"/><path d="M89.9 161.9L91.4 164.6L88.4 164.6Z" fill="#adff2f" fill-opacity="0.13"/><circle cx="91.4" cy="165.0" r="1.25" fill="#adff2f" fill-opacity="0.13"/><circle cx="91.1" cy="161.9" r="1.25" fill="#adff2f" fill-opacity="0.13"/><circle cx="91.0" cy="159.7" r="1.25" fill="#adff2f" fill-opacity="0.13"/><circle cx="96.4" cy="162.3" r="1.25" fill="#adff2f" fill-opacity="0.13"/><path d="M92.3 171.0L93.8 173.6L90.8 173.6Z" fill="#adff2f" fill-opacity="0.13"/><path d="M94.5 152.1L96.0 154.8L93.0 154.8Z" fill="#adff2f" fill-opacity="0.13"/><path d="M92.9 164.0L94.4 166.6L91.4 166.6Z" fill="#adff2f" fill-opacity="0.13"/><circle cx="95.6" cy="166.4" r="1.25" fill="#adff2f" fill-opacity="0.13"/><circle cx="93.1" cy="156.2" r="1.25" fill="#adff2f" fill-opacity="0.13"/><path d="M89.3 163.2L90.8 165.8L87.8 165.8Z" fill="#adff2f" fill-opacity="0.13"/><circle cx="92.5" cy="157.2" r="1.25" fill="#adff2f" fill-opacity="0.13"/><circle cx="90.4" cy="161.1" r="1.25" fill="#adff2f" fill-opacity="0.13"/><path d="M91.4 162.4L92.9 165.0L89.9 165.0Z" fill="#adff2f" fill-opacity="0.13"/><path d="M90.6 155.6L92.1 158.2L89.1 158.2Z" fill="#adff2f" fill-opacity="0.13"/><circle cx="94.2" cy="168.4" r="1.25" fill="#adff2f" fill-opacity="0.13"/><circle cx="91.1" cy="167.3" r="1.25" fill="#adff2f" fill-opacity="0.13"/><path d="M92.3 163.4L93.8 166.1L90.8 166.1Z" fill="#adff2f" fill-opacity="0.13"/><circle cx="92.4" cy="158.4" r="1.25" fill="#adff2f" fill-opacity="0.13"/><path d="M92.6 164.9L94.1 167.5L91.1 167.5Z" fill="#adff2f" fill-opacity="0.13"/><circle cx="89.2" cy="172.6" r="1.25" fill="#adff2f" fill-opacity="0.13"/><path d="M96.1 166.9L97.6 169.5L94.6 169.5Z" fill="#adff2f" fill-opacity="0.13"/><circle cx="95.9" cy="163.6" r="1.25" fill="#adff2f" fill-opacity="0.13"/><circle cx="90.5" cy="160.1" r="1.25" fill="#adff2f" fill-opacity="0.13"/><circle cx="89.4" cy="164.0" r="1.25" fill="#adff2f" fill-opacity="0.13"/><circle cx="91.2" cy="165.6" r="1.25" fill="#adff2f" fill-opacity="0.13"/><path d="M86.7 173.9L88.2 176.5L85.2 176.5Z" fill="#adff2f" fill-opacity="0.13"/><circle cx="96.5" cy="159.8" r="1.25" fill="#adff2f" fill-opacity="0.13"/><circle cx="92.9" cy="163.9" r="1.25" fill="#adff2f" fill-opacity="0.13"/><circle cx="91.9" cy="161.2" r="1.25" fill="#adff2f" fill-opacity="0.13"/><path d="M91.0 157.3L92.5 159.9L89.5 159.9Z" fill="#adff2f" fill-opacity="0.13"/><path d="M91.7 160.6L93.2 163.2L90.2 163.2Z" fill="#adff2f" fill-opacity="0.13"/><circle cx="92.0" cy="158.2" r="1.25" fill="#adff2f" fill-opacity="0.13"/><circle cx="91.4" cy="162.7" r="1.25" fill="#adff2f" fill-opacity="0.13"/><circle cx="92.7" cy="156.9" r="1.25" fill="#adff2f" fill-opacity="0.13"/><path d="M92.3 165.0L93.8 167.6L90.8 167.6Z" fill="#adff2f" fill-opacity="0.13"/><path d="M92.7 158.5L94.2 161.2L91.2 161.2Z" fill="#adff2f" fill-opacity="0.13"/><circle cx="90.2" cy="162.0" r="1.25" fill="#adff2f" fill-opacity="0.13"/><circle cx="93.0" cy="168.8" r="1.25" fill="#adff2f" fill-opacity="0.13"/><path d="M90.9 158.1L92.4 160.8L89.4 160.8Z" fill="#adff2f" fill-opacity="0.13"/><circle cx="92.2" cy="163.0" r="1.25" fill="#adff2f" fill-opacity="0.13"/><path d="M89.2 158.6L90.7 161.2L87.7 161.2Z" fill="#adff2f" fill-opacity="0.13"/><path d="M91.1 164.1L92.6 166.8L89.6 166.8Z" fill="#adff2f" fill-opacity="0.13"/><path d="M88.6 157.6L90.1 160.2L87.1 160.2Z" fill="#adff2f" fill-opacity="0.13"/><path d="M92.4 154.7L93.9 157.3L90.9 157.3Z" fill="#adff2f" fill-opacity="0.13"/><path d="M91.6 162.4L93.1 165.1L90.1 165.1Z" fill="#adff2f" fill-opacity="0.13"/><circle cx="91.0" cy="157.9" r="1.25" fill="#adff2f" fill-opacity="0.13"/><circle cx="91.2" cy="161.0" r="1.25" fill="#adff2f" fill-opacity="0.13"/><path d="M92.1 156.7L93.6 159.3L90.6 159.3Z" fill="#adff2f" fill-opacity="0.13"/><path d="M93.8 152.0L95.3 154.6L92.3 154.6Z" fill="#adff2f" fill-opacity="0.13"/><circle cx="90.9" cy="162.7" r="1.25" fill="#adff2f" fill-opacity="0.13"/><path d="M93.5 157.0L95.0 159.7L92.0 159.7Z" fill="#adff2f" fill-opacity="0.13"/><path d="M92.6 157.7L94.1 160.3L91.1 160.3Z" fill="#adff2f" fill-opacity="0.13"/><path d="M93.0 168.1L94.5 170.7L91.5 170.7Z" fill="#adff2f" fill-opacity="0.13"/><path d="M90.4 163.4L91.9 166.1L88.9 166.1Z" fill="#adff2f" fill-opacity="0.13"/><path d="M89.2 166.5L90.7 169.1L87.7 169.1Z" fill="#adff2f" fill-opacity="0.13"/><path d="M94.1 159.7L95.6 162.3L92.6 162.3Z" fill="#adff2f" fill-opacity="0.13"/><path d="M88.7 164.1L90.2 166.7L87.2 166.7Z" fill="#adff2f" fill-opacity="0.13"/><circle cx="93.9" cy="166.2" r="1.25" fill="#adff2f" fill-opacity="0.13"/><path d="M93.2 151.6L94.7 154.2L91.7 154.2Z" fill="#adff2f" fill-opacity="0.13"/><path d="M89.7 168.2L91.2 170.9L88.2 170.9Z" fill="#adff2f" fill-opacity="0.13"/><circle cx="88.5" cy="169.1" r="1.25" fill="#adff2f" fill-opacity="0.13"/><path d="M95.6 162.3L97.1 164.9L94.1 164.9Z" fill="#adff2f" fill-opacity="0.13"/><circle cx="93.9" cy="159.7" r="1.25" fill="#adff2f" fill-opacity="0.13"/><circle cx="88.5" cy="163.4" r="1.25" fill="#adff2f" fill-opacity="0.13"/><circle cx="90.8" cy="162.5" r="1.25" fill="#adff2f" fill-opacity="0.13"/><path d="M92.9 159.4L94.4 162.1L91.4 162.1Z" fill="#adff2f" fill-opacity="0.13"/><path d="M91.7 162.6L93.2 165.3L90.2 165.3Z" fill="#adff2f" fill-opacity="0.13"/><circle cx="91.3" cy="171.0" r="1.25" fill="#adff2f" fill-opacity="0.13"/><path d="M92.3 160.8L93.8 163.4L90.8 163.4Z" fill="#adff2f" fill-opacity="0.13"/><circle cx="90.8" cy="159.9" r="1.25" fill="#adff2f" fill-opacity="0.13"/><circle cx="94.4" cy="161.6" r="1.25" fill="#adff2f" fill-opacity="0.13"/><circle cx="88.8" cy="161.2" r="1.25" fill="#adff2f" fill-opacity="0.13"/><path d="M91.0 159.0L92.5 161.7L89.5 161.7Z" fill="#adff2f" fill-opacity="0.13"/><path d="M93.8 154.3L95.3 157.0L92.3 157.0Z" fill="#adff2f" fill-opacity="0.13"/><circle cx="92.4" cy="162.6" r="1.25" fill="#adff2f" fill-opacity="0.13"/><circle cx="88.6" cy="164.1" r="1.25" fill="#adff2f" fill-opacity="0.13"/><path d="M91.1 163.3L92.6 166.0L89.6 166.0Z" fill="#adff2f" fill-opacity="0.13"/><circle cx="90.3" cy="164.4" r="1.25" fill="#adff2f" fill-opacity="0.13"/><path d="M87.5 157.8L89.0 160.5L86.0 160.5Z" fill="#adff2f" fill-opacity="0.13"/><circle cx="93.1" cy="166.4" r="1.25" fill="#adff2f" fill-opacity="0.13"/><path d="M91.3 158.2L92.8 160.8L89.8 160.8Z" fill="#adff2f" fill-opacity="0.13"/><circle cx="93.8" cy="151.6" r="1.25" fill="#adff2f" fill-opacity="0.13"/><circle cx="89.5" cy="166.5" r="1.25" fill="#adff2f" fill-opacity="0.13"/><path d="M92.8 155.4L94.3 158.1L91.3 158.1Z" fill="#adff2f" fill-opacity="0.13"/><circle cx="87.0" cy="171.3" r="1.25" fill="#adff2f" fill-opacity="0.13"/><path d="M91.7 156.6L93.2 159.3L90.2 159.3Z" fill="#adff2f" fill-opacity="0.13"/><path d="M91.4 165.0L92.9 167.6L89.9 167.6Z" fill="#adff2f" fill-opacity="0.13"/><path d="M85.3 169.0L86.8 171.6L83.8 171.6Z" fill="#adff2f" fill-opacity="0.13"/><circle cx="93.0" cy="152.1" r="1.25" fill="#adff2f" fill-opacity="0.13"/><circle cx="93.1" cy="153.4" r="1.25" fill="#adff2f" fill-opacity="0.13"/><circle cx="93.9" cy="163.0" r="1.25" fill="#adff2f" fill-opacity="0.13"/><path d="M96.5 155.5L98.0 158.2L95.0 158.2Z" fill="#adff2f" fill-opacity="0.13"/><circle cx="91.3" cy="167.3" r="1.25" fill="#adff2f" fill-opacity="0.13"/><path d="M89.8 158.4L91.3 161.0L88.3 161.0Z" fill="#adff2f" fill-opacity="0.13"/><path d="M90.4 161.0L91.9 163.6L88.9 163.6Z" fill="#adff2f" fill-opacity="0.13"/><circle cx="88.8" cy="166.0" r="1.25" fill="#adff2f" fill-opacity="0.13"/><circle cx="92.5" cy="162.2" r="1.25" fill="#adff2f" fill-opacity="0.13"/><circle cx="95.2" cy="159.0" r="1.25" fill="#adff2f" fill-opacity="0.13"/><circle cx="94.3" cy="158.5" r="1.25" fill="#adff2f" fill-opacity="0.13"/><circle cx="93.0" cy="152.7" r="1.25" fill="#adff2f" fill-opacity="0.13"/><path d="M91.8 159.9L93.3 162.5L90.3 162.5Z" fill="#adff2f" fill-opacity="0.13"/><circle cx="90.2" cy="160.3" r="1.25" fill="#adff2f" fill-opacity="0.13"/><circle cx="90.5" cy="159.6" r="1.25" fill="#adff2f" fill-opacity="0.13"/><path d="M86.3 160.7L87.8 163.3L84.8 163.3Z" fill="#adff2f" fill-opacity="0.13"/><path d="M90.0 159.1L91.5 161.8L88.5 161.8Z" fill="#adff2f" fill-opacity="0.13"/><circle cx="88.9" cy="163.1" r="1.25" fill="#adff2f" fill-opacity="0.13"/><path d="M93.1 158.9L94.6 161.5L91.6 161.5Z" fill="#adff2f" fill-opacity="0.13"/><path d="M90.2 167.7L91.7 170.4L88.7 170.4Z" fill="#adff2f" fill-opacity="0.13"/><circle cx="93.5" cy="165.6" r="1.25" fill="#adff2f" fill-opacity="0.13"/><circle cx="94.0" cy="159.7" r="1.25" fill="#adff2f" fill-opacity="0.13"/><circle cx="91.0" cy="167.8" r="1.25" fill="#adff2f" fill-opacity="0.13"/><circle cx="90.0" cy="162.6" r="1.25" fill="#adff2f" fill-opacity="0.13"/><circle cx="92.2" cy="163.8" r="1.25" fill="#adff2f" fill-opacity="0.13"/><path d="M90.7 165.8L92.2 168.4L89.2 168.4Z" fill="#adff2f" fill-opacity="0.13"/><path d="M90.9 164.5L92.4 167.1L89.4 167.1Z" fill="#adff2f" fill-opacity="0.13"/><path d="M93.8 162.7L95.3 165.4L92.3 165.4Z" fill="#adff2f" fill-opacity="0.13"/><path d="M93.0 154.7L94.5 157.4L91.5 157.4Z" fill="#adff2f" fill-opacity="0.13"/><circle cx="88.3" cy="161.2" r="1.25" fill="#adff2f" fill-opacity="0.13"/><circle cx="92.4" cy="168.9" r="1.25" fill="#adff2f" fill-opacity="0.13"/><circle cx="88.5" cy="165.3" r="1.25" fill="#adff2f" fill-opacity="0.13"/><circle cx="89.3" cy="160.1" r="1.25" fill="#adff2f" fill-opacity="0.13"/><path d="M90.7 164.4L92.2 167.1L89.2 167.1Z" fill="#adff2f" fill-opacity="0.13"/><circle cx="91.8" cy="167.7" r="1.25" fill="#adff2f" fill-opacity="0.13"/><path d="M89.0 166.1L90.5 168.8L87.5 168.8Z" fill="#adff2f" fill-opacity="0.13"/><circle cx="93.4" cy="161.8" r="1.25" fill="#adff2f" fill-opacity="0.13"/><circle cx="92.4" cy="159.4" r="1.25" fill="#adff2f" fill-opacity="0.13"/><circle cx="88.8" cy="161.9" r="1.25" fill="#adff2f" fill-opacity="0.13"/><path d="M89.8 174.9L91.3 177.6L88.3 177.6Z" fill="#adff2f" fill-opacity="0.13"/><circle cx="90.2" cy="170.6" r="1.25" fill="#adff2f" fill-opacity="0.13"/><circle cx="91.8" cy="163.7" r="1.25" fill="#adff2f" fill-opacity="0.13"/><circle cx="93.0" cy="158.1" r="1.25" fill="#adff2f" fill-opacity="0.13"/><circle cx="93.4" cy="163.2" r="1.25" fill="#adff2f" fill-opacity="0.13"/><circle cx="87.8" cy="167.0" r="1.25" fill="#adff2f" fill-opacity="0.13"/><circle cx="92.6" cy="163.9" r="1.25" fill="#adff2f" fill-opacity="0.13"/><circle cx="94.9" cy="158.8" r="1.25" fill="#adff2f" fill-opacity="0.13"/><circle cx="92.5" cy="165.4" r="1.25" fill="#adff2f" fill-opacity="0.13"/><circle cx="89.2" cy="169.1" r="1.25" fill="#adff2f" fill-opacity="0.13"/><path d="M88.0 156.6L89.5 159.2L86.5 159.2Z" fill="#adff2f" fill-opacity="0.13"/><circle cx="92.5" cy="156.9" r="1.25" fill="#adff2f" fill-opacity="0.13"/><circle cx="91.0" cy="155.1" r="1.25" fill="#adff2f" fill-opacity="0.13"/><circle cx="91.5" cy="157.2" r="1.25" fill="#adff2f" fill-opacity="0.13"/><path d="M92.1 153.5L93.6 156.1L90.6 156.1Z" fill="#adff2f" fill-opacity="0.13"/><path d="M92.3 159.2L93.8 161.8L90.8 161.8Z" fill="#adff2f" fill-opacity="0.13"/><circle cx="91.4" cy="162.1" r="1.25" fill="#adff2f" fill-opacity="0.13"/><circle cx="91.6" cy="156.3" r="1.25" fill="#adff2f" fill-opacity="0.13"/><path d="M85.4 164.0L86.9 166.7L83.9 166.7Z" fill="#adff2f" fill-opacity="0.13"/><path d="M89.1 159.9L90.6 162.5L87.6 162.5Z" fill="#adff2f" fill-opacity="0.13"/><path d="M92.3 151.3L93.8 153.9L90.8 153.9Z" fill="#adff2f" fill-opacity="0.13"/><path d="M89.5 159.0L91.0 161.6L88.0 161.6Z" fill="#adff2f" fill-opacity="0.13"/><circle cx="88.9" cy="165.2" r="1.25" fill="#adff2f" fill-opacity="0.13"/><circle cx="91.0" cy="158.9" r="1.25" fill="#adff2f" fill-opacity="0.13"/><circle cx="89.0" cy="167.3" r="1.25" fill="#adff2f" fill-opacity="0.13"/><path d="M89.8 164.4L91.3 167.0L88.3 167.0Z" fill="#adff2f" fill-opacity="0.13"/><circle cx="92.3" cy="153.3" r="1.25" fill="#adff2f" fill-opacity="0.13"/><path d="M88.8 162.2L90.3 164.8L87.3 164.8Z" fill="#adff2f" fill-opacity="0.13"/><circle cx="92.1" cy="165.7" r="1.25" fill="#adff2f" fill-opacity="0.13"/><path d="M93.1 164.8L94.6 167.4L91.6 167.4Z" fill="#adff2f" fill-opacity="0.13"/><path d="M90.4 160.4L91.9 163.0L88.9 163.0Z" fill="#adff2f" fill-opacity="0.13"/><circle cx="93.1" cy="159.7" r="1.25" fill="#adff2f" fill-opacity="0.13"/><path d="M93.7 152.4L95.2 155.0L92.2 155.0Z" fill="#adff2f" fill-opacity="0.13"/><path d="M92.8 159.4L94.3 162.0L91.3 162.0Z" fill="#adff2f" fill-opacity="0.13"/><path d="M86.8 167.7L88.3 170.3L85.3 170.3Z" fill="#adff2f" fill-opacity="0.13"/><path d="M92.0 160.7L93.5 163.3L90.5 163.3Z" fill="#adff2f" fill-opacity="0.13"/><circle cx="88.8" cy="161.6" r="1.25" fill="#adff2f" fill-opacity="0.13"/><circle cx="94.8" cy="157.0" r="1.25" fill="#adff2f" fill-opacity="0.13"/><path d="M83.3 161.0L84.8 163.6L81.8 163.6Z" fill="#adff2f" fill-opacity="0.13"/><circle cx="88.5" cy="163.3" r="1.25" fill="#adff2f" fill-opacity="0.13"/><path d="M90.4 157.2L91.9 159.8L88.9 159.8Z" fill="#adff2f" fill-opacity="0.13"/><path d="M89.4 166.7L90.9 169.3L87.9 169.3Z" fill="#adff2f" fill-opacity="0.13"/><circle cx="88.0" cy="173.2" r="1.25" fill="#adff2f" fill-opacity="0.13"/><path d="M90.0 156.5L91.5 159.2L88.5 159.2Z" fill="#adff2f" fill-opacity="0.13"/><path d="M93.1 162.6L94.6 165.2L91.6 165.2Z" fill="#adff2f" fill-opacity="0.13"/><circle cx="88.9" cy="167.1" r="1.25" fill="#adff2f" fill-opacity="0.13"/><path d="M102.0 138.2L103.5 140.8L100.5 140.8Z" fill="#adff2f" fill-opacity="0.13"/><circle cx="92.2" cy="148.9" r="1.25" fill="#adff2f" fill-opacity="0.13"/><path d="M99.1 135.6L100.6 138.2L97.6 138.2Z" fill="#adff2f" fill-opacity="0.13"/><circle cx="100.3" cy="141.1" r="1.25" fill="#adff2f" fill-opacity="0.13"/><circle cx="102.3" cy="131.4" r="1.25" fill="#adff2f" fill-opacity="0.13"/><circle cx="95.5" cy="154.3" r="1.25" fill="#adff2f" fill-opacity="0.13"/><path d="M105.1 136.7L106.6 139.3L103.6 139.3Z" fill="#adff2f" fill-opacity="0.13"/><circle cx="96.5" cy="151.1" r="1.25" fill="#adff2f" fill-opacity="0.13"/><path d="M94.3 145.1L95.8 147.7L92.8 147.7Z" fill="#adff2f" fill-opacity="0.13"/><circle cx="90.2" cy="152.3" r="1.25" fill="#adff2f" fill-opacity="0.13"/><path d="M98.5 149.1L100.0 151.7L97.0 151.7Z" fill="#adff2f" fill-opacity="0.13"/><path d="M87.2 160.1L88.7 162.7L85.7 162.7Z" fill="#adff2f" fill-opacity="0.13"/><circle cx="94.0" cy="151.8" r="1.25" fill="#adff2f" fill-opacity="0.13"/><circle cx="96.1" cy="148.7" r="1.25" fill="#adff2f" fill-opacity="0.13"/><circle cx="98.8" cy="146.0" r="1.25" fill="#adff2f" fill-opacity="0.13"/><path d="M96.1 148.3L97.6 151.0L94.6 151.0Z" fill="#adff2f" fill-opacity="0.13"/><circle cx="100.0" cy="146.1" r="1.25" fill="#adff2f" fill-opacity="0.13"/><circle cx="96.3" cy="150.5" r="1.25" fill="#adff2f" fill-opacity="0.13"/><path d="M99.6 139.5L101.1 142.2L98.1 142.2Z" fill="#adff2f" fill-opacity="0.13"/><circle cx="87.5" cy="154.8" r="1.25" fill="#adff2f" fill-opacity="0.13"/><circle cx="97.5" cy="143.1" r="1.25" fill="#adff2f" fill-opacity="0.13"/><circle cx="91.4" cy="157.0" r="1.25" fill="#adff2f" fill-opacity="0.13"/><circle cx="97.1" cy="142.9" r="1.25" fill="#adff2f" fill-opacity="0.13"/><path d="M98.6 155.3L100.1 157.9L97.1 157.9Z" fill="#adff2f" fill-opacity="0.13"/><circle cx="95.0" cy="147.5" r="1.25" fill="#adff2f" fill-opacity="0.13"/><path d="M100.4 150.5L101.9 153.2L98.9 153.2Z" fill="#adff2f" fill-opacity="0.13"/><path d="M99.7 142.5L101.2 145.1L98.2 145.1Z" fill="#adff2f" fill-opacity="0.13"/><path d="M97.2 143.2L98.7 145.8L95.7 145.8Z" fill="#adff2f" fill-opacity="0.13"/><path d="M101.8 132.2L103.3 134.8L100.3 134.8Z" fill="#adff2f" fill-opacity="0.13"/><circle cx="100.9" cy="134.3" r="1.25" fill="#adff2f" fill-opacity="0.13"/><circle cx="100.2" cy="143.5" r="1.25" fill="#adff2f" fill-opacity="0.13"/><path d="M100.6 136.7L102.1 139.3L99.1 139.3Z" fill="#adff2f" fill-opacity="0.13"/><path d="M98.6 142.3L100.1 144.9L97.1 144.9Z" fill="#adff2f" fill-opacity="0.13"/><path d="M94.8 136.2L96.3 138.8L93.3 138.8Z" fill="#adff2f" fill-opacity="0.13"/><path d="M94.7 154.6L96.2 157.2L93.2 157.2Z" fill="#adff2f" fill-opacity="0.13"/><path d="M95.1 153.1L96.6 155.8L93.6 155.8Z" fill="#adff2f" fill-opacity="0.13"/><path d="M99.2 146.3L100.7 148.9L97.7 148.9Z" fill="#adff2f" fill-opacity="0.13"/><circle cx="94.0" cy="150.6" r="1.25" fill="#adff2f" fill-opacity="0.13"/><circle cx="93.4" cy="154.3" r="1.25" fill="#adff2f" fill-opacity="0.13"/><path d="M94.3 154.3L95.8 157.0L92.8 157.0Z" fill="#adff2f" fill-opacity="0.13"/><path d="M97.4 153.2L98.9 155.9L95.9 155.9Z" fill="#adff2f" fill-opacity="0.13"/><circle cx="96.9" cy="155.0" r="1.25" fill="#adff2f" fill-opacity="0.13"/><path d="M91.3 161.7L92.8 164.3L89.8 164.3Z" fill="#adff2f" fill-opacity="0.13"/><path d="M87.3 157.1L88.8 159.7L85.8 159.7Z" fill="#adff2f" fill-opacity="0.13"/><circle cx="100.5" cy="141.4" r="1.25" fill="#adff2f" fill-opacity="0.13"/><circle cx="93.2" cy="146.5" r="1.25" fill="#adff2f" fill-opacity="0.13"/><circle cx="96.2" cy="153.5" r="1.25" fill="#adff2f" fill-opacity="0.13"/><circle cx="91.9" cy="154.6" r="1.25" fill="#adff2f" fill-opacity="0.13"/><circle cx="97.7" cy="148.0" r="1.25" fill="#adff2f" fill-opacity="0.13"/><circle cx="95.5" cy="146.4" r="1.25" fill="#adff2f" fill-opacity="0.13"/><circle cx="98.4" cy="150.1" r="1.25" fill="#adff2f" fill-opacity="0.13"/><circle cx="88.7" cy="156.5" r="1.25" fill="#adff2f" fill-opacity="0.13"/><path d="M94.1 148.5L95.6 151.1L92.6 151.1Z" fill="#adff2f" fill-opacity="0.13"/><path d="M95.4 140.3L96.9 142.9L93.9 142.9Z" fill="#adff2f" fill-opacity="0.13"/><path d="M96.4 149.2L97.9 151.9L94.9 151.9Z" fill="#adff2f" fill-opacity="0.13"/><circle cx="97.7" cy="141.9" r="1.25" fill="#adff2f" fill-opacity="0.13"/><circle cx="89.6" cy="156.1" r="1.25" fill="#adff2f" fill-opacity="0.13"/><circle cx="95.7" cy="148.1" r="1.25" fill="#adff2f" fill-opacity="0.13"/><path d="M94.3 151.9L95.8 154.5L92.8 154.5Z" fill="#adff2f" fill-opacity="0.13"/><path d="M97.6 142.8L99.1 145.4L96.1 145.4Z" fill="#adff2f" fill-opacity="0.13"/><path d="M101.0 128.6L102.5 131.3L99.5 131.3Z" fill="#adff2f" fill-opacity="0.13"/><circle cx="101.1" cy="139.4" r="1.25" fill="#adff2f" fill-opacity="0.13"/><circle cx="89.5" cy="155.2" r="1.25" fill="#adff2f" fill-opacity="0.13"/><path d="M91.0 151.6L92.5 154.2L89.5 154.2Z" fill="#adff2f" fill-opacity="0.13"/><path d="M98.0 146.0L99.5 148.7L96.5 148.7Z" fill="#adff2f" fill-opacity="0.13"/><path d="M93.3 147.9L94.8 150.5L91.8 150.5Z" fill="#adff2f" fill-opacity="0.13"/><path d="M96.0 152.9L97.5 155.5L94.5 155.5Z" fill="#adff2f" fill-opacity="0.13"/><circle cx="98.9" cy="141.7" r="1.25" fill="#adff2f" fill-opacity="0.13"/><circle cx="93.4" cy="158.2" r="1.25" fill="#adff2f" fill-opacity="0.13"/><path d="M97.2 149.1L98.7 151.8L95.7 151.8Z" fill="#adff2f" fill-opacity="0.13"/><path d="M99.7 147.0L101.2 149.6L98.2 149.6Z" fill="#adff2f" fill-opacity="0.13"/><path d="M96.3 141.3L97.8 144.0L94.8 144.0Z" fill="#adff2f" fill-opacity="0.13"/><path d="M94.3 144.6L95.8 147.2L92.8 147.2Z" fill="#adff2f" fill-opacity="0.13"/><circle cx="93.5" cy="155.5" r="1.25" fill="#adff2f" fill-opacity="0.13"/><path d="M99.2 152.5L100.7 155.2L97.7 155.2Z" fill="#adff2f" fill-opacity="0.13"/><circle cx="99.1" cy="144.9" r="1.25" fill="#adff2f" fill-opacity="0.13"/><circle cx="92.6" cy="155.1" r="1.25" fill="#adff2f" fill-opacity="0.13"/><circle cx="100.1" cy="135.0" r="1.25" fill="#adff2f" fill-opacity="0.13"/><path d="M94.3 143.4L95.8 146.1L92.8 146.1Z" fill="#adff2f" fill-opacity="0.13"/><circle cx="99.1" cy="139.7" r="1.25" fill="#adff2f" fill-opacity="0.13"/><path d="M94.7 137.0L96.2 139.6L93.2 139.6Z" fill="#adff2f" fill-opacity="0.13"/><path d="M97.5 134.8L99.0 137.4L96.0 137.4Z" fill="#adff2f" fill-opacity="0.13"/><circle cx="96.4" cy="144.0" r="1.25" fill="#adff2f" fill-opacity="0.13"/><circle cx="95.0" cy="143.4" r="1.25" fill="#adff2f" fill-opacity="0.13"/><path d="M103.6 137.9L105.1 140.6L102.1 140.6Z" fill="#adff2f" fill-opacity="0.13"/><path d="M90.0 152.1L91.5 154.7L88.5 154.7Z" fill="#adff2f" fill-opacity="0.13"/><path d="M86.5 149.3L88.0 152.0L85.0 152.0Z" fill="#adff2f" fill-opacity="0.13"/><circle cx="95.3" cy="142.8" r="1.25" fill="#adff2f" fill-opacity="0.13"/><circle cx="89.8" cy="160.9" r="1.25" fill="#adff2f" fill-opacity="0.13"/><circle cx="92.5" cy="156.3" r="1.25" fill="#adff2f" fill-opacity="0.13"/><circle cx="97.1" cy="139.7" r="1.25" fill="#adff2f" fill-opacity="0.13"/><path d="M90.4 151.8L91.9 154.5L88.9 154.5Z" fill="#adff2f" fill-opacity="0.13"/><circle cx="99.0" cy="137.7" r="1.25" fill="#adff2f" fill-opacity="0.13"/><path d="M102.1 138.4L103.6 141.1L100.6 141.1Z" fill="#adff2f" fill-opacity="0.13"/><circle cx="95.7" cy="147.9" r="1.25" fill="#adff2f" fill-opacity="0.13"/><circle cx="100.6" cy="144.1" r="1.25" fill="#adff2f" fill-opacity="0.13"/><path d="M92.4 144.1L93.9 146.7L90.9 146.7Z" fill="#adff2f" fill-opacity="0.13"/><path d="M101.1 138.4L102.6 141.1L99.6 141.1Z" fill="#adff2f" fill-opacity="0.13"/><path d="M94.9 150.1L96.4 152.7L93.4 152.7Z" fill="#adff2f" fill-opacity="0.13"/><circle cx="95.2" cy="157.1" r="1.25" fill="#adff2f" fill-opacity="0.13"/><path d="M97.4 148.5L98.9 151.1L95.9 151.1Z" fill="#adff2f" fill-opacity="0.13"/><path d="M94.6 147.6L96.1 150.3L93.1 150.3Z" fill="#adff2f" fill-opacity="0.13"/><circle cx="100.4" cy="158.8" r="1.25" fill="#adff2f" fill-opacity="0.13"/><circle cx="102.3" cy="142.9" r="1.25" fill="#adff2f" fill-opacity="0.13"/><path d="M99.6 132.4L101.1 135.0L98.1 135.0Z" fill="#adff2f" fill-opacity="0.13"/><path d="M94.2 146.5L95.7 149.1L92.7 149.1Z" fill="#adff2f" fill-opacity="0.13"/><circle cx="102.7" cy="146.2" r="1.25" fill="#adff2f" fill-opacity="0.13"/><circle cx="92.9" cy="138.2" r="1.25" fill="#adff2f" fill-opacity="0.13"/><path d="M97.5 143.7L99.0 146.3L96.0 146.3Z" fill="#adff2f" fill-opacity="0.13"/><path d="M97.1 155.7L98.6 158.3L95.6 158.3Z" fill="#adff2f" fill-opacity="0.13"/><circle cx="98.9" cy="140.0" r="1.25" fill="#adff2f" fill-opacity="0.13"/><circle cx="101.0" cy="137.8" r="1.25" fill="#adff2f" fill-opacity="0.13"/><path d="M93.8 148.5L95.3 151.2L92.3 151.2Z" fill="#adff2f" fill-opacity="0.13"/><circle cx="97.6" cy="142.4" r="1.25" fill="#adff2f" fill-opacity="0.13"/><path d="M98.1 139.6L99.6 142.2L96.6 142.2Z" fill="#adff2f" fill-opacity="0.13"/><path d="M92.9 148.2L94.4 150.9L91.4 150.9Z" fill="#adff2f" fill-opacity="0.13"/><circle cx="96.9" cy="154.8" r="1.25" fill="#adff2f" fill-opacity="0.13"/><path d="M99.1 137.8L100.6 140.5L97.6 140.5Z" fill="#adff2f" fill-opacity="0.13"/><path d="M103.1 133.7L104.6 136.3L101.6 136.3Z" fill="#adff2f" fill-opacity="0.13"/><circle cx="97.3" cy="149.1" r="1.25" fill="#adff2f" fill-opacity="0.13"/><path d="M100.6 145.5L102.1 148.2L99.1 148.2Z" fill="#adff2f" fill-opacity="0.13"/><path d="M85.7 156.9L87.2 159.6L84.2 159.6Z" fill="#adff2f" fill-opacity="0.13"/><path d="M94.8 156.9L96.3 159.5L93.3 159.5Z" fill="#adff2f" fill-opacity="0.13"/><circle cx="92.9" cy="154.8" r="1.25" fill="#adff2f" fill-opacity="0.13"/><circle cx="102.4" cy="134.0" r="1.25" fill="#adff2f" fill-opacity="0.13"/><circle cx="94.4" cy="153.3" r="1.25" fill="#adff2f" fill-opacity="0.13"/><path d="M93.9 146.3L95.4 149.0L92.4 149.0Z" fill="#adff2f" fill-opacity="0.13"/><path d="M92.8 142.2L94.3 144.8L91.3 144.8Z" fill="#adff2f" fill-opacity="0.13"/><circle cx="101.2" cy="138.7" r="1.25" fill="#adff2f" fill-opacity="0.13"/><path d="M93.0 145.8L94.5 148.5L91.5 148.5Z" fill="#adff2f" fill-opacity="0.13"/><path d="M95.1 154.7L96.6 157.3L93.6 157.3Z" fill="#adff2f" fill-opacity="0.13"/><path d="M101.6 145.3L103.1 147.9L100.1 147.9Z" fill="#adff2f" fill-opacity="0.13"/><circle cx="106.7" cy="136.3" r="1.25" fill="#adff2f" fill-opacity="0.13"/><circle cx="97.6" cy="142.9" r="1.25" fill="#adff2f" fill-opacity="0.13"/><path d="M95.9 139.2L97.4 141.9L94.4 141.9Z" fill="#adff2f" fill-opacity="0.13"/><circle cx="99.8" cy="144.1" r="1.25" fill="#adff2f" fill-opacity="0.13"/><circle cx="96.7" cy="145.8" r="1.25" fill="#adff2f" fill-opacity="0.13"/><path d="M101.6 135.7L103.1 138.4L100.1 138.4Z" fill="#adff2f" fill-opacity="0.13"/><path d="M96.7 141.2L98.2 143.8L95.2 143.8Z" fill="#adff2f" fill-opacity="0.13"/><circle cx="95.0" cy="145.7" r="1.25" fill="#adff2f" fill-opacity="0.13"/><circle cx="91.6" cy="148.4" r="1.25" fill="#adff2f" fill-opacity="0.13"/><path d="M96.3 149.4L97.8 152.0L94.8 152.0Z" fill="#adff2f" fill-opacity="0.13"/><path d="M98.6 134.8L100.1 137.5L97.1 137.5Z" fill="#adff2f" fill-opacity="0.13"/><circle cx="99.6" cy="138.9" r="1.25" fill="#adff2f" fill-opacity="0.13"/><path d="M96.3 148.1L97.8 150.7L94.8 150.7Z" fill="#adff2f" fill-opacity="0.13"/><path d="M97.1 147.9L98.6 150.5L95.6 150.5Z" fill="#adff2f" fill-opacity="0.13"/><circle cx="88.4" cy="156.7" r="1.25" fill="#adff2f" fill-opacity="0.13"/><circle cx="90.9" cy="158.6" r="1.25" fill="#adff2f" fill-opacity="0.13"/><circle cx="97.7" cy="145.7" r="1.25" fill="#adff2f" fill-opacity="0.13"/><circle cx="98.2" cy="139.9" r="1.25" fill="#adff2f" fill-opacity="0.13"/><path d="M107.6 104.9L109.1 107.5L106.1 107.5Z" fill="#adff2f" fill-opacity="0.13"/><path d="M104.4 113.0L105.9 115.7L102.9 115.7Z" fill="#adff2f" fill-opacity="0.13"/><circle cx="101.2" cy="106.5" r="1.25" fill="#adff2f" fill-opacity="0.13"/><circle cx="99.6" cy="132.5" r="1.25" fill="#adff2f" fill-opacity="0.13"/><path d="M99.9 129.8L101.4 132.5L98.4 132.5Z" fill="#adff2f" fill-opacity="0.13"/><path d="M104.7 121.9L106.2 124.5L103.2 124.5Z" fill="#adff2f" fill-opacity="0.13"/><path d="M97.6 119.0L99.1 121.6L96.1 121.6Z" fill="#adff2f" fill-opacity="0.13"/><circle cx="107.8" cy="115.7" r="1.25" fill="#adff2f" fill-opacity="0.13"/><path d="M108.8 107.1L110.3 109.8L107.3 109.8Z" fill="#adff2f" fill-opacity="0.13"/><circle cx="101.8" cy="121.3" r="1.25" fill="#adff2f" fill-opacity="0.13"/><circle cx="105.7" cy="115.8" r="1.25" fill="#adff2f" fill-opacity="0.13"/><circle cx="101.0" cy="117.1" r="1.25" fill="#adff2f" fill-opacity="0.13"/><circle cx="110.5" cy="117.8" r="1.25" fill="#adff2f" fill-opacity="0.13"/><path d="M92.1 131.2L93.6 133.9L90.6 133.9Z" fill="#adff2f" fill-opacity="0.13"/><path d="M152.3 32.5L153.9 35.3L150.7 35.3Z" fill="#adff2f" fill-opacity="0.22"/><path d="M114.4 40.8L116.0 43.6L112.8 43.6Z" fill="#adff2f" fill-opacity="0.22"/><path d="M117.0 56.1L118.6 58.9L115.4 58.9Z" fill="#adff2f" fill-opacity="0.22"/><path d="M107.0 104.3L108.6 107.1L105.4 107.1Z" fill="#adff2f" fill-opacity="0.22"/><path d="M109.0 118.3L110.6 121.1L107.4 121.1Z" fill="#adff2f" fill-opacity="0.22"/><path d="M96.0 118.3L97.6 121.1L94.4 121.1Z" fill="#adff2f" fill-opacity="0.22"/><path d="M121.0 148.3L122.6 151.1L119.4 151.1Z" fill="#adff2f" fill-opacity="0.22"/><path d="M126.0 168.3L127.6 171.1L124.4 171.1Z" fill="#adff2f" fill-opacity="0.22"/><path d="M104.0 174.3L105.6 177.1L102.4 177.1Z" fill="#adff2f" fill-opacity="0.22"/><path d="M133.0 188.3L134.6 191.1L131.4 191.1Z" fill="#adff2f" fill-opacity="0.22"/><path d="M118.0 126.3L119.6 129.1L116.4 129.1Z" fill="#adff2f" fill-opacity="0.22"/><path d="M103.0 122.3L104.6 125.1L101.4 125.1Z" fill="#adff2f" fill-opacity="0.22"/></g>
<path d="M89.2 198.5L91.2 202.0L87.2 202.0Z" fill="#9a2ea6" fill-opacity="0.92"/>
<path d="M92.0 198.1L94.0 201.6L90.0 201.6Z" fill="#9a2ea6" fill-opacity="0.92"/>
<path d="M94.4 203.5L96.4 207.0L92.5 207.0Z" fill="#9a2ea6" fill-opacity="0.92"/>
<path d="M93.6 208.2L95.5 211.7L91.6 211.7Z" fill="#9a2ea6" fill-opacity="0.92"/>
<path d="M110.0 195.4L112.0 198.9L108.0 198.9Z" fill="#9a2ea6" fill-opacity="0.92"/>
<path d="M117.0 196.0L119.0 199.5L115.0 199.5Z" fill="#9a2ea6" fill-opacity="0.92"/>
<path d="M119.4 196.0L121.4 199.5L117.5 199.5Z" fill="#9a2ea6" fill-opacity="0.92"/>
<path d="M123.9 193.4L125.9 196.9L122.0 196.9Z" fill="#9a2ea6" fill-opacity="0.92"/>
<path d="M93.1 140.7L95.0 144.2L91.1 144.2Z" fill="#9a2ea6" fill-opacity="0.92"/>
<path d="M99.4 138.9L101.4 142.4L97.5 142.4Z" fill="#9a2ea6" fill-opacity="0.92"/>
<path d="M103.3 144.6L105.2 148.1L101.3 148.1Z" fill="#9a2ea6" fill-opacity="0.92"/>
<path d="M93.6 151.2L95.5 154.7L91.6 154.7Z" fill="#9a2ea6" fill-opacity="0.92"/>
<path d="M88.6 155.9L90.5 159.4L86.6 159.4Z" fill="#9a2ea6" fill-opacity="0.92"/>
<path d="M121.7 126.2L123.7 129.7L119.8 129.7Z" fill="#9a2ea6" fill-opacity="0.92"/>
<path d="M125.2 135.2L127.2 138.7L123.2 138.7Z" fill="#9a2ea6" fill-opacity="0.92"/>
<path d="M167.0 41.6L168.9 45.1L165.1 45.1Z" fill="#9a2ea6" fill-opacity="0.92"/>
<path d="M172.3 46.6L174.2 50.1L170.4 50.1Z" fill="#9a2ea6" fill-opacity="0.92"/>
<circle cx="109.2" cy="141.6" r="1.45" fill="#9a2ea6" fill-opacity="0.9"/>
<circle cx="89.7" cy="166.2" r="1.45" fill="#9a2ea6" fill-opacity="0.9"/>
<circle cx="92.2" cy="166.0" r="1.45" fill="#9a2ea6" fill-opacity="0.9"/>
<circle cx="90.8" cy="168.8" r="1.45" fill="#9a2ea6" fill-opacity="0.9"/>
<circle cx="94.0" cy="158.2" r="1.45" fill="#9a2ea6" fill-opacity="0.9"/>
<line x1="98.9" y1="11.7" x2="98.9" y2="228" stroke="#b4b4b4" stroke-width="1.4" stroke-dasharray="6.6 6.78" stroke-dashoffset="2.28"/>
<line x1="98.9" y1="202" x2="98.9" y2="209.3" stroke="#b4b4b4" stroke-width="1.2"/>
<text x="171.2" y="38.2" font-size="4.8" text-anchor="start" font-weight="normal" fill="#111" stroke="#111" stroke-width="0.07">OAS2</text>
<text x="175.5" y="44.0" font-size="4.8" text-anchor="start" font-weight="normal" fill="#111" stroke="#111" stroke-width="0.07">ISG15</text>
<text x="124.0" y="125.6" font-size="4.8" text-anchor="start" font-weight="normal" fill="#111" stroke="#111" stroke-width="0.07">PARP12</text>
<text x="127.8" y="135.7" font-size="4.8" text-anchor="start" font-weight="normal" fill="#111" stroke="#111" stroke-width="0.07">GBP1</text>
<text x="100.9" y="139.0" font-size="4.8" text-anchor="start" font-weight="normal" fill="#111" stroke="#111" stroke-width="0.07">DDX60</text>
<text x="105.6" y="147.5" font-size="4.8" text-anchor="start" font-weight="normal" fill="#111" stroke="#111" stroke-width="0.07">TRANK1</text>
<text x="57.6" y="219.5" font-size="6.4" text-anchor="end" font-weight="normal" fill="#333" stroke="#333" stroke-width="0.09">0</text>
<line x1="59.6" y1="217.4" x2="61.9" y2="217.4" stroke="#333" stroke-width="0.8"/>
<text x="57.6" y="154.6" font-size="6.4" text-anchor="end" font-weight="normal" fill="#333" stroke="#333" stroke-width="0.09">2</text>
<line x1="59.6" y1="152.5" x2="61.9" y2="152.5" stroke="#333" stroke-width="0.8"/>
<text x="57.6" y="89.7" font-size="6.4" text-anchor="end" font-weight="normal" fill="#333" stroke="#333" stroke-width="0.09">4</text>
<line x1="59.6" y1="87.6" x2="61.9" y2="87.6" stroke="#333" stroke-width="0.8"/>
<text x="57.6" y="24.8" font-size="6.4" text-anchor="end" font-weight="normal" fill="#333" stroke="#333" stroke-width="0.09">6</text>
<line x1="59.6" y1="22.7" x2="61.9" y2="22.7" stroke="#333" stroke-width="0.8"/>
<line x1="69.2" y1="228.9" x2="69.2" y2="231.0" stroke="#333" stroke-width="0.8"/>
<text x="69.2" y="238.0" font-size="6.4" text-anchor="middle" font-weight="normal" fill="#333" stroke="#333" stroke-width="0.09">0</text>
<line x1="99.1" y1="228.9" x2="99.1" y2="231.0" stroke="#333" stroke-width="0.8"/>
<text x="99.1" y="238.0" font-size="6.4" text-anchor="middle" font-weight="normal" fill="#333" stroke="#333" stroke-width="0.09">1</text>
<line x1="129.0" y1="228.9" x2="129.0" y2="231.0" stroke="#333" stroke-width="0.8"/>
<text x="129.0" y="238.0" font-size="6.4" text-anchor="middle" font-weight="normal" fill="#333" stroke="#333" stroke-width="0.09">2</text>
<line x1="159.0" y1="228.9" x2="159.0" y2="231.0" stroke="#333" stroke-width="0.8"/>
<text x="159.0" y="238.0" font-size="6.4" text-anchor="middle" font-weight="normal" fill="#333" stroke="#333" stroke-width="0.09">3</text>
<line x1="188.9" y1="228.9" x2="188.9" y2="231.0" stroke="#333" stroke-width="0.8"/>
<text x="188.9" y="238.0" font-size="6.4" text-anchor="middle" font-weight="normal" fill="#333" stroke="#333" stroke-width="0.09">4</text>
<line x1="218.8" y1="228.9" x2="218.8" y2="231.0" stroke="#333" stroke-width="0.8"/>
<text x="218.8" y="238.0" font-size="6.4" text-anchor="middle" font-weight="normal" fill="#333" stroke="#333" stroke-width="0.09">5</text>
<text x="143.9" y="248.3" font-size="8.77" text-anchor="middle" font-weight="normal" fill="#111" stroke="#111" stroke-width="0.12">FC expression Finistere vs control</text>
<text x="49.3" y="103.3" font-size="8.56" text-anchor="middle" font-weight="normal" fill="#111" stroke="#111" stroke-width="0.12" transform="rotate(-90 49.3 103.3)">FC enrichment RISC Finistere vs control</text>
<rect x="106.9" y="6.6" width="8.899999999999991" height="18.9" fill="#f2f2f2"/>
<rect x="173.6" y="6.6" width="8.900000000000006" height="18.9" fill="#f2f2f2"/>
<line x1="106.9" y1="15.8" x2="115.8" y2="15.8" stroke="#fff" stroke-width="0.5"/>
<line x1="173.6" y1="15.8" x2="182.5" y2="15.8" stroke="#fff" stroke-width="0.5"/>
<circle cx="111.3" cy="11.2" r="1.2" fill="#000" fill-opacity="1"/>
<path d="M111.3 19.2L112.9 21.9L109.8 21.9Z" fill="#000" fill-opacity="1"/>
<rect x="176.97" y="9.62" width="2.16" height="2.16" fill="#adff2f"/>
<circle cx="178.1" cy="20.4" r="1.08" fill="#9a2ea6" fill-opacity="1"/>
<text x="117.8" y="13.0" font-size="5.0" text-anchor="start" font-weight="normal" fill="#111" stroke="#111" stroke-width="0.07">Non−miRNA−target</text>
<text x="120.1" y="23.1" font-size="5.0" text-anchor="start" font-weight="normal" fill="#111" stroke="#111" stroke-width="0.07">miRNA−target</text>
<text x="184.2" y="12.6" font-size="5.0" text-anchor="start" font-weight="normal" fill="#111" stroke="#111" stroke-width="0.07">Non−interferome</text>
<text x="186.9" y="22.4" font-size="5.0" text-anchor="start" font-weight="normal" fill="#111" stroke="#111" stroke-width="0.07">Interferome</text>
<rect x="256.5" y="5.0" width="31.100000000000023" height="12.399999999999999" fill="#fff" stroke="#8a8a8a" stroke-width="0.8"/>
<text x="272.1" y="14.6" font-size="9.5" text-anchor="middle" font-weight="normal" fill="#111" stroke="#111" stroke-width="0.13">B</text>
<rect x="293.2" y="5.0" width="30.30000000000001" height="12.3" fill="#fff" stroke="#cfcfcf" stroke-width="0.8"/>
<text x="308.4" y="14.7" font-size="9.8" text-anchor="middle" font-weight="normal" fill="#111" stroke="#111" stroke-width="0.14">7h p.i.</text>
<line x1="288.6" y1="175.4" x2="392" y2="175.4" stroke="#ececec" stroke-width="0.8"/>
<line x1="288.6" y1="127.1" x2="392" y2="127.1" stroke="#ececec" stroke-width="0.8"/>
<line x1="288.6" y1="78.8" x2="392" y2="78.8" stroke="#ececec" stroke-width="0.8"/>
<line x1="288.6" y1="30.5" x2="392" y2="30.5" stroke="#ececec" stroke-width="0.8"/>
<line x1="298.6" y1="24" x2="298.6" y2="182" stroke="#ececec" stroke-width="0.8"/>
<line x1="315.6" y1="24" x2="315.6" y2="182" stroke="#ececec" stroke-width="0.8"/>
<line x1="332.2" y1="24" x2="332.2" y2="182" stroke="#ececec" stroke-width="0.8"/>
<line x1="348.6" y1="24" x2="348.6" y2="182" stroke="#ececec" stroke-width="0.8"/>
<line x1="365.4" y1="24" x2="365.4" y2="182" stroke="#ececec" stroke-width="0.8"/>
<line x1="382.2" y1="24" x2="382.2" y2="182" stroke="#ececec" stroke-width="0.8"/>
<line x1="293.9" y1="124.1" x2="293.9" y2="130.6" stroke="#333" stroke-width="0.75"/><rect x="292.25" y="124.1" width="3.3" height="5.60" fill="#00e5ee" stroke="#333" stroke-width="0.7"/><line x1="292.25" y1="126.8" x2="295.55" y2="126.8" stroke="#333" stroke-width="1.3"/>
<line x1="297.0" y1="114.7" x2="297.0" y2="118.6" stroke="#333" stroke-width="0.75"/><rect x="295.35" y="114.7" width="3.3" height="3.10" fill="#5a9e1e" stroke="#333" stroke-width="0.7"/><line x1="295.35" y1="116.2" x2="298.65" y2="116.2" stroke="#333" stroke-width="1.3"/>
<line x1="300.0" y1="119.7" x2="300.0" y2="123.4" stroke="#333" stroke-width="0.75"/><rect x="298.35" y="119.7" width="3.3" height="3.70" fill="#008b8b" stroke="#333" stroke-width="0.7"/><line x1="298.35" y1="121.5" x2="301.65" y2="121.5" stroke="#333" stroke-width="1.3"/>
<rect x="301.65" y="118.90" width="3.3" height="1.8" fill="#222" stroke="#222" stroke-width="0.4"/>
<line x1="310.5" y1="69.3" x2="310.5" y2="91.4" stroke="#333" stroke-width="0.75"/><rect x="308.85" y="77.8" width="3.3" height="10.80" fill="#00e5ee" stroke="#333" stroke-width="0.7"/><line x1="308.85" y1="84.6" x2="312.15" y2="84.6" stroke="#333" stroke-width="1.3"/>
<line x1="313.6" y1="48.9" x2="313.6" y2="72.6" stroke="#333" stroke-width="0.75"/><rect x="311.95" y="54.0" width="3.3" height="9.00" fill="#7fff00" stroke="#333" stroke-width="0.7"/><line x1="311.95" y1="57.8" x2="315.25" y2="57.8" stroke="#333" stroke-width="1.3"/>
<line x1="316.8" y1="57.3" x2="316.8" y2="89.1" stroke="#333" stroke-width="0.75"/><rect x="315.15" y="66.1" width="3.3" height="17.40" fill="#008b8b" stroke="#333" stroke-width="0.7"/><line x1="315.15" y1="75.9" x2="318.45" y2="75.9" stroke="#333" stroke-width="1.3"/>
<line x1="319.9" y1="46.1" x2="319.9" y2="54.8" stroke="#333" stroke-width="0.75"/><rect x="318.25" y="50.1" width="3.3" height="4.70" fill="#8a2be2" stroke="#333" stroke-width="0.7"/><line x1="318.25" y1="52.9" x2="321.55" y2="52.9" stroke="#333" stroke-width="1.3"/>
<line x1="327.2" y1="70.7" x2="327.2" y2="80.2" stroke="#333" stroke-width="0.75"/><rect x="325.55" y="73.6" width="3.3" height="6.60" fill="#00e5ee" stroke="#333" stroke-width="0.7"/><line x1="325.55" y1="77.3" x2="328.85" y2="77.3" stroke="#333" stroke-width="1.3"/>
<rect x="328.65" y="61.70" width="3.3" height="1.8" fill="#222" stroke="#222" stroke-width="0.4"/>
<line x1="333.5" y1="60.2" x2="333.5" y2="64.7" stroke="#333" stroke-width="0.75"/><rect x="331.85" y="62.0" width="3.3" height="2.70" fill="#008b8b" stroke="#333" stroke-width="0.7"/><line x1="331.85" y1="63.3" x2="335.15" y2="63.3" stroke="#333" stroke-width="1.3"/>
<line x1="336.5" y1="52.6" x2="336.5" y2="60.1" stroke="#333" stroke-width="0.75"/><rect x="334.85" y="54.0" width="3.3" height="4.40" fill="#8a2be2" stroke="#333" stroke-width="0.7"/><line x1="334.85" y1="56.3" x2="338.15" y2="56.3" stroke="#333" stroke-width="1.3"/>
<line x1="344.0" y1="52.0" x2="344.0" y2="59.4" stroke="#333" stroke-width="0.75"/><rect x="342.35" y="55.0" width="3.3" height="3.20" fill="#12b5b8" stroke="#333" stroke-width="0.7"/><line x1="342.35" y1="56.7" x2="345.65" y2="56.7" stroke="#333" stroke-width="1.3"/>
<rect x="345.35" y="32.70" width="3.3" height="1.8" fill="#222" stroke="#222" stroke-width="0.4"/>
<line x1="350.3" y1="37.2" x2="350.3" y2="49.7" stroke="#333" stroke-width="0.75"/><rect x="348.65" y="43.1" width="3.3" height="5.50" fill="#008b8b" stroke="#333" stroke-width="0.7"/><line x1="348.65" y1="46.0" x2="351.95" y2="46.0" stroke="#333" stroke-width="1.3"/>
<line x1="353.4" y1="25.9" x2="353.4" y2="29.1" stroke="#333" stroke-width="0.75"/><rect x="351.75" y="25.9" width="3.3" height="3.20" fill="#8a2be2" stroke="#333" stroke-width="0.7"/><line x1="351.75" y1="27.5" x2="355.05" y2="27.5" stroke="#333" stroke-width="1.3"/>
<line x1="360.8" y1="124.1" x2="360.8" y2="135.7" stroke="#333" stroke-width="0.75"/><rect x="359.15" y="129.0" width="3.3" height="4.80" fill="#00e5ee" stroke="#333" stroke-width="0.7"/><line x1="359.15" y1="130.4" x2="362.45" y2="130.4" stroke="#333" stroke-width="1.3"/>
<line x1="363.8" y1="114.8" x2="363.8" y2="121.3" stroke="#333" stroke-width="0.75"/><rect x="362.15" y="117.8" width="3.3" height="3.50" fill="#5a9e1e" stroke="#333" stroke-width="0.7"/><line x1="362.15" y1="119.5" x2="365.45" y2="119.5" stroke="#333" stroke-width="1.3"/>
<rect x="365.35" y="120.40" width="3.3" height="1.8" fill="#222" stroke="#222" stroke-width="0.4"/>
<rect x="368.35" y="120.40" width="3.3" height="1.8" fill="#222" stroke="#222" stroke-width="0.4"/>
<rect x="375.65" y="113.10" width="3.3" height="1.8" fill="#222" stroke="#222" stroke-width="0.4"/>
<line x1="380.6" y1="98.3" x2="380.6" y2="102.7" stroke="#333" stroke-width="0.75"/><rect x="378.95" y="99.7" width="3.3" height="3.00" fill="#5a9e1e" stroke="#333" stroke-width="0.7"/><line x1="378.95" y1="101.2" x2="382.25" y2="101.2" stroke="#333" stroke-width="1.3"/>
<rect x="382.05" y="109.60" width="3.3" height="1.8" fill="#222" stroke="#222" stroke-width="0.4"/>
<line x1="386.9" y1="97.4" x2="386.9" y2="106.5" stroke="#333" stroke-width="0.75"/><rect x="385.25" y="97.4" width="3.3" height="7.50" fill="#8a2be2" stroke="#333" stroke-width="0.7"/><line x1="385.25" y1="101.4" x2="388.55" y2="101.4" stroke="#333" stroke-width="1.3"/>
<path d="M288.6 24V182.2H392.2" fill="none" stroke="#222" stroke-width="0.9"/>
<line x1="285.8" y1="175.4" x2="288.6" y2="175.4" stroke="#333" stroke-width="0.8"/>
<text x="283.9" y="177.9" font-size="6.9" text-anchor="end" font-weight="normal" fill="#222" stroke="#222" stroke-width="0.10">0</text>
<line x1="285.8" y1="127.1" x2="288.6" y2="127.1" stroke="#333" stroke-width="0.8"/>
<text x="283.9" y="129.6" font-size="6.9" text-anchor="end" font-weight="normal" fill="#222" stroke="#222" stroke-width="0.10">5</text>
<line x1="285.8" y1="78.8" x2="288.6" y2="78.8" stroke="#333" stroke-width="0.8"/>
<text x="283.9" y="81.3" font-size="6.9" text-anchor="end" font-weight="normal" fill="#222" stroke="#222" stroke-width="0.10">10</text>
<line x1="285.8" y1="30.5" x2="288.6" y2="30.5" stroke="#333" stroke-width="0.8"/>
<text x="283.9" y="33.0" font-size="6.9" text-anchor="end" font-weight="normal" fill="#222" stroke="#222" stroke-width="0.10">15</text>
<line x1="298.6" y1="182.2" x2="298.6" y2="185" stroke="#333" stroke-width="0.8"/>
<text x="301.2" y="202.4" font-size="7.4" text-anchor="middle" font-weight="normal" fill="#222" stroke="#222" stroke-width="0.10" transform="rotate(-90 301.2 202.4)">TRANK1</text>
<line x1="315.6" y1="182.2" x2="315.6" y2="185" stroke="#333" stroke-width="0.8"/>
<text x="318.2" y="202.4" font-size="7.4" text-anchor="middle" font-weight="normal" fill="#222" stroke="#222" stroke-width="0.10" transform="rotate(-90 318.2 202.4)">OAS2</text>
<line x1="332.2" y1="182.2" x2="332.2" y2="185" stroke="#333" stroke-width="0.8"/>
<text x="334.8" y="202.4" font-size="7.4" text-anchor="middle" font-weight="normal" fill="#222" stroke="#222" stroke-width="0.10" transform="rotate(-90 334.8 202.4)">PARP12</text>
<line x1="348.6" y1="182.2" x2="348.6" y2="185" stroke="#333" stroke-width="0.8"/>
<text x="351.2" y="202.4" font-size="7.4" text-anchor="middle" font-weight="normal" fill="#222" stroke="#222" stroke-width="0.10" transform="rotate(-90 351.2 202.4)">ISG15</text>
<line x1="365.4" y1="182.2" x2="365.4" y2="185" stroke="#333" stroke-width="0.8"/>
<text x="368.0" y="202.4" font-size="7.4" text-anchor="middle" font-weight="normal" fill="#222" stroke="#222" stroke-width="0.10" transform="rotate(-90 368.0 202.4)">DDX60</text>
<line x1="382.2" y1="182.2" x2="382.2" y2="185" stroke="#333" stroke-width="0.8"/>
<text x="384.8" y="202.4" font-size="7.4" text-anchor="middle" font-weight="normal" fill="#222" stroke="#222" stroke-width="0.10" transform="rotate(-90 384.8 202.4)">GBP1</text>
<text x="267.0" y="103.0" font-size="9.95" text-anchor="middle" font-weight="bold" fill="#111" stroke="#111" stroke-width="0.14" transform="rotate(-90 267.0 103.0)">log2(intensity)</text>
<circle cx="260.5" cy="230.8" r="1.7" fill="#00e5ee" stroke="#3a3a3a" stroke-width="0.7"/>
<text x="264.4" y="233.8" font-size="8.85" text-anchor="start" font-weight="normal" fill="#111" stroke="#111" stroke-width="0.12">RISC Control</text>
<circle cx="334.0" cy="230.8" r="1.7" fill="#6fd010" stroke="#3a3a3a" stroke-width="0.7"/>
<text x="337.9" y="233.8" font-size="8.85" text-anchor="start" font-weight="normal" fill="#111" stroke="#111" stroke-width="0.12">RISC Finistere</text>
<circle cx="260.5" cy="245.2" r="1.7" fill="#008b8b" stroke="#3a3a3a" stroke-width="0.7"/>
<text x="264.4" y="248.2" font-size="8.85" text-anchor="start" font-weight="normal" fill="#111" stroke="#111" stroke-width="0.12">RNA Control</text>
<circle cx="337.3" cy="245.2" r="1.7" fill="#7b3fc4" stroke="#3a3a3a" stroke-width="0.7"/>
<text x="341.5" y="248.2" font-size="8.85" text-anchor="start" font-weight="normal" fill="#111" stroke="#111" stroke-width="0.12">RNA Finistere</text>
<rect x="416.4" y="5.1" width="30.80000000000001" height="12.000000000000002" fill="#fff" stroke="#8a8a8a" stroke-width="0.8"/>
<text x="431.8" y="14.5" font-size="9.5" text-anchor="middle" font-weight="normal" fill="#111" stroke="#111" stroke-width="0.13">C</text>
<rect x="452.3" y="5.1" width="38.0" height="12.000000000000002" fill="#fff" stroke="#cfcfcf" stroke-width="0.8"/>
<text x="471.3" y="14.5" font-size="9.5" text-anchor="middle" font-weight="normal" fill="#111" stroke="#111" stroke-width="0.13">10h p.i.</text>
<line x1="504.3" y1="182.65" x2="645" y2="182.65" stroke="#b4b4b4" stroke-width="1.3" stroke-dasharray="6.1 6.0"/>
<path d="M527.0 208.8L528.6 211.6L525.4 211.6Z" fill="#9a2ea6" fill-opacity="0.9"/>
<path d="M531.0 210.3L532.6 213.1L529.4 213.1Z" fill="#9a2ea6" fill-opacity="0.9"/>
<path d="M525.0 211.3L526.6 214.1L523.4 214.1Z" fill="#9a2ea6" fill-opacity="0.9"/>
<path d="M536.0 207.8L537.6 210.6L534.4 210.6Z" fill="#9a2ea6" fill-opacity="0.9"/>
<path d="M538.0 207.1L539.6 209.9L536.4 209.9Z" fill="#9a2ea6" fill-opacity="0.9"/>
<path d="M534.5 209.8L536.1 212.6L532.9 212.6Z" fill="#9a2ea6" fill-opacity="0.9"/>
<g><circle cx="526.9" cy="214.0" r="1.15" fill="#adff2f" fill-opacity="0.17"/><circle cx="535.1" cy="215.4" r="1.15" fill="#adff2f" fill-opacity="0.17"/><path d="M529.3 215.1L530.7 217.6L527.9 217.6Z" fill="#adff2f" fill-opacity="0.17"/><circle cx="524.6" cy="214.1" r="1.15" fill="#adff2f" fill-opacity="0.17"/><path d="M533.4 208.1L534.8 210.6L532.0 210.6Z" fill="#adff2f" fill-opacity="0.17"/><circle cx="529.5" cy="211.1" r="1.15" fill="#adff2f" fill-opacity="0.17"/><circle cx="520.9" cy="214.9" r="1.15" fill="#adff2f" fill-opacity="0.17"/><path d="M527.0 211.5L528.4 213.9L525.6 213.9Z" fill="#adff2f" fill-opacity="0.17"/><path d="M523.3 212.5L524.7 215.0L521.9 215.0Z" fill="#adff2f" fill-opacity="0.17"/><path d="M533.1 211.2L534.5 213.6L531.7 213.6Z" fill="#adff2f" fill-opacity="0.17"/><path d="M530.0 208.4L531.4 210.9L528.6 210.9Z" fill="#adff2f" fill-opacity="0.17"/><path d="M530.7 213.5L532.1 216.0L529.3 216.0Z" fill="#adff2f" fill-opacity="0.17"/><circle cx="524.8" cy="214.6" r="1.15" fill="#adff2f" fill-opacity="0.17"/><path d="M522.9 212.5L524.3 215.0L521.5 215.0Z" fill="#adff2f" fill-opacity="0.17"/><circle cx="525.5" cy="210.1" r="1.15" fill="#adff2f" fill-opacity="0.17"/><path d="M529.6 212.8L531.0 215.3L528.2 215.3Z" fill="#adff2f" fill-opacity="0.17"/><circle cx="526.7" cy="212.6" r="1.15" fill="#adff2f" fill-opacity="0.17"/><path d="M533.3 210.5L534.7 213.0L531.9 213.0Z" fill="#adff2f" fill-opacity="0.17"/><circle cx="528.3" cy="213.9" r="1.15" fill="#adff2f" fill-opacity="0.17"/><path d="M522.6 211.7L524.0 214.2L521.2 214.2Z" fill="#adff2f" fill-opacity="0.17"/><circle cx="521.9" cy="216.2" r="1.15" fill="#adff2f" fill-opacity="0.17"/><circle cx="532.1" cy="211.0" r="1.15" fill="#adff2f" fill-opacity="0.17"/><circle cx="533.0" cy="210.5" r="1.15" fill="#adff2f" fill-opacity="0.17"/><circle cx="532.4" cy="213.2" r="1.15" fill="#adff2f" fill-opacity="0.17"/><path d="M519.1 215.5L520.5 218.0L517.7 218.0Z" fill="#adff2f" fill-opacity="0.17"/><circle cx="530.5" cy="212.2" r="1.15" fill="#adff2f" fill-opacity="0.17"/><path d="M526.4 214.0L527.8 216.5L525.0 216.5Z" fill="#adff2f" fill-opacity="0.17"/><path d="M525.7 213.3L527.1 215.7L524.3 215.7Z" fill="#adff2f" fill-opacity="0.17"/><circle cx="532.3" cy="212.3" r="1.15" fill="#adff2f" fill-opacity="0.17"/><circle cx="527.1" cy="209.9" r="1.15" fill="#adff2f" fill-opacity="0.17"/><path d="M526.6 210.7L528.0 213.2L525.2 213.2Z" fill="#adff2f" fill-opacity="0.17"/><path d="M525.8 212.7L527.2 215.1L524.4 215.1Z" fill="#adff2f" fill-opacity="0.17"/><path d="M533.3 208.0L534.7 210.5L531.9 210.5Z" fill="#adff2f" fill-opacity="0.17"/><circle cx="527.4" cy="210.2" r="1.15" fill="#adff2f" fill-opacity="0.17"/><path d="M527.9 209.7L529.3 212.1L526.5 212.1Z" fill="#adff2f" fill-opacity="0.17"/><circle cx="528.1" cy="211.9" r="1.15" fill="#adff2f" fill-opacity="0.17"/><circle cx="523.2" cy="216.3" r="1.15" fill="#adff2f" fill-opacity="0.17"/><circle cx="529.1" cy="215.4" r="1.15" fill="#adff2f" fill-opacity="0.17"/><path d="M517.3 213.0L518.7 215.5L515.9 215.5Z" fill="#adff2f" fill-opacity="0.17"/><circle cx="531.7" cy="211.2" r="1.15" fill="#adff2f" fill-opacity="0.17"/><path d="M528.8 212.6L530.2 215.1L527.4 215.1Z" fill="#adff2f" fill-opacity="0.17"/><path d="M527.1 212.0L528.5 214.5L525.7 214.5Z" fill="#adff2f" fill-opacity="0.17"/><path d="M523.9 206.9L525.3 209.4L522.5 209.4Z" fill="#adff2f" fill-opacity="0.17"/><circle cx="520.9" cy="216.1" r="1.15" fill="#adff2f" fill-opacity="0.17"/><path d="M526.3 209.0L527.7 211.5L524.9 211.5Z" fill="#adff2f" fill-opacity="0.17"/><circle cx="526.5" cy="214.3" r="1.15" fill="#adff2f" fill-opacity="0.17"/><circle cx="527.3" cy="215.1" r="1.15" fill="#adff2f" fill-opacity="0.17"/><circle cx="523.2" cy="212.4" r="1.15" fill="#adff2f" fill-opacity="0.17"/><path d="M521.5 211.6L522.9 214.0L520.1 214.0Z" fill="#adff2f" fill-opacity="0.17"/><path d="M527.9 212.3L529.3 214.8L526.5 214.8Z" fill="#adff2f" fill-opacity="0.17"/><path d="M525.1 213.5L526.5 215.9L523.7 215.9Z" fill="#adff2f" fill-opacity="0.17"/><circle cx="515.9" cy="216.1" r="1.15" fill="#adff2f" fill-opacity="0.17"/><path d="M525.5 215.9L526.9 218.4L524.1 218.4Z" fill="#adff2f" fill-opacity="0.17"/><path d="M529.2 212.8L530.6 215.2L527.8 215.2Z" fill="#adff2f" fill-opacity="0.17"/><circle cx="524.9" cy="212.1" r="1.15" fill="#adff2f" fill-opacity="0.17"/><path d="M534.2 213.4L535.6 215.9L532.8 215.9Z" fill="#adff2f" fill-opacity="0.17"/><circle cx="527.0" cy="213.3" r="1.15" fill="#adff2f" fill-opacity="0.17"/><circle cx="527.7" cy="217.5" r="1.15" fill="#adff2f" fill-opacity="0.17"/><path d="M525.0 211.2L526.4 213.7L523.6 213.7Z" fill="#adff2f" fill-opacity="0.17"/><path d="M529.7 215.7L531.1 218.2L528.3 218.2Z" fill="#adff2f" fill-opacity="0.17"/><circle cx="523.6" cy="212.1" r="1.15" fill="#adff2f" fill-opacity="0.17"/><path d="M527.4 213.1L528.8 215.6L526.0 215.6Z" fill="#adff2f" fill-opacity="0.17"/><circle cx="530.4" cy="212.8" r="1.15" fill="#adff2f" fill-opacity="0.17"/><path d="M523.9 212.2L525.3 214.7L522.5 214.7Z" fill="#adff2f" fill-opacity="0.17"/><path d="M534.3 211.1L535.7 213.6L532.9 213.6Z" fill="#adff2f" fill-opacity="0.17"/><circle cx="530.2" cy="212.6" r="1.15" fill="#adff2f" fill-opacity="0.17"/><path d="M531.0 214.1L532.4 216.6L529.6 216.6Z" fill="#adff2f" fill-opacity="0.17"/><path d="M523.3 214.8L524.7 217.2L521.9 217.2Z" fill="#adff2f" fill-opacity="0.17"/><path d="M526.6 215.9L528.0 218.3L525.2 218.3Z" fill="#adff2f" fill-opacity="0.17"/><path d="M521.5 215.6L522.9 218.1L520.1 218.1Z" fill="#adff2f" fill-opacity="0.17"/><path d="M527.5 213.4L528.9 215.9L526.1 215.9Z" fill="#adff2f" fill-opacity="0.17"/><path d="M522.7 215.2L524.1 217.7L521.3 217.7Z" fill="#adff2f" fill-opacity="0.17"/><circle cx="527.4" cy="213.2" r="1.15" fill="#adff2f" fill-opacity="0.17"/><path d="M528.0 210.8L529.4 213.2L526.6 213.2Z" fill="#adff2f" fill-opacity="0.17"/><path d="M524.7 213.1L526.1 215.5L523.3 215.5Z" fill="#adff2f" fill-opacity="0.17"/><path d="M526.1 211.5L527.5 214.0L524.7 214.0Z" fill="#adff2f" fill-opacity="0.17"/><path d="M524.0 213.0L525.4 215.4L522.6 215.4Z" fill="#adff2f" fill-opacity="0.17"/><path d="M524.6 213.1L526.0 215.5L523.2 215.5Z" fill="#adff2f" fill-opacity="0.17"/><circle cx="523.6" cy="216.1" r="1.15" fill="#adff2f" fill-opacity="0.17"/><path d="M525.0 212.4L526.4 214.8L523.6 214.8Z" fill="#adff2f" fill-opacity="0.17"/><circle cx="526.3" cy="211.3" r="1.15" fill="#adff2f" fill-opacity="0.17"/><path d="M534.2 209.9L535.6 212.3L532.8 212.3Z" fill="#adff2f" fill-opacity="0.17"/><path d="M531.1 210.6L532.5 213.0L529.7 213.0Z" fill="#adff2f" fill-opacity="0.17"/><path d="M530.3 215.1L531.7 217.5L528.9 217.5Z" fill="#adff2f" fill-opacity="0.17"/><circle cx="529.2" cy="214.0" r="1.15" fill="#adff2f" fill-opacity="0.17"/><path d="M520.2 214.4L521.6 216.8L518.8 216.8Z" fill="#adff2f" fill-opacity="0.17"/><path d="M523.2 213.5L524.6 216.0L521.8 216.0Z" fill="#adff2f" fill-opacity="0.17"/><path d="M524.5 211.1L525.9 213.6L523.1 213.6Z" fill="#adff2f" fill-opacity="0.17"/><path d="M531.1 211.2L532.5 213.6L529.7 213.6Z" fill="#adff2f" fill-opacity="0.17"/><circle cx="532.3" cy="212.8" r="1.15" fill="#adff2f" fill-opacity="0.17"/><circle cx="540.5" cy="210.1" r="1.15" fill="#adff2f" fill-opacity="0.17"/><path d="M533.2 209.1L534.6 211.6L531.8 211.6Z" fill="#adff2f" fill-opacity="0.17"/><path d="M531.4 208.1L532.8 210.6L530.0 210.6Z" fill="#adff2f" fill-opacity="0.17"/><circle cx="539.2" cy="205.9" r="1.15" fill="#adff2f" fill-opacity="0.17"/><circle cx="538.4" cy="208.8" r="1.15" fill="#adff2f" fill-opacity="0.17"/><circle cx="537.2" cy="211.5" r="1.15" fill="#adff2f" fill-opacity="0.17"/><path d="M537.3 208.4L538.7 210.9L535.9 210.9Z" fill="#adff2f" fill-opacity="0.17"/><path d="M540.2 208.8L541.6 211.3L538.8 211.3Z" fill="#adff2f" fill-opacity="0.17"/><circle cx="538.4" cy="212.9" r="1.15" fill="#adff2f" fill-opacity="0.17"/><circle cx="539.8" cy="209.3" r="1.15" fill="#adff2f" fill-opacity="0.17"/><path d="M545.7 207.9L547.1 210.4L544.3 210.4Z" fill="#adff2f" fill-opacity="0.17"/><circle cx="531.3" cy="211.5" r="1.15" fill="#adff2f" fill-opacity="0.17"/><circle cx="523.6" cy="212.6" r="1.15" fill="#adff2f" fill-opacity="0.17"/><path d="M537.6 212.1L539.0 214.6L536.2 214.6Z" fill="#adff2f" fill-opacity="0.17"/><path d="M540.4 208.4L541.8 210.8L539.0 210.8Z" fill="#adff2f" fill-opacity="0.17"/><path d="M539.4 208.1L540.8 210.6L538.0 210.6Z" fill="#adff2f" fill-opacity="0.17"/><path d="M532.7 211.7L534.1 214.2L531.3 214.2Z" fill="#adff2f" fill-opacity="0.17"/><circle cx="534.3" cy="211.5" r="1.15" fill="#adff2f" fill-opacity="0.17"/><path d="M541.5 208.2L542.9 210.7L540.1 210.7Z" fill="#adff2f" fill-opacity="0.17"/><circle cx="531.1" cy="211.9" r="1.15" fill="#adff2f" fill-opacity="0.17"/><path d="M537.9 209.7L539.3 212.2L536.5 212.2Z" fill="#adff2f" fill-opacity="0.17"/><path d="M538.2 208.4L539.6 210.9L536.8 210.9Z" fill="#adff2f" fill-opacity="0.17"/><circle cx="530.8" cy="211.0" r="1.15" fill="#adff2f" fill-opacity="0.17"/><path d="M538.7 209.1L540.1 211.5L537.3 211.5Z" fill="#adff2f" fill-opacity="0.17"/><path d="M532.2 208.6L533.6 211.0L530.8 211.0Z" fill="#adff2f" fill-opacity="0.17"/><circle cx="540.5" cy="208.1" r="1.15" fill="#adff2f" fill-opacity="0.17"/><circle cx="539.1" cy="209.7" r="1.15" fill="#adff2f" fill-opacity="0.17"/><circle cx="534.9" cy="211.0" r="1.15" fill="#adff2f" fill-opacity="0.17"/><path d="M536.6 209.1L538.0 211.6L535.2 211.6Z" fill="#adff2f" fill-opacity="0.17"/><circle cx="533.5" cy="215.4" r="1.15" fill="#adff2f" fill-opacity="0.17"/><circle cx="531.7" cy="212.2" r="1.15" fill="#adff2f" fill-opacity="0.17"/><circle cx="538.0" cy="207.7" r="1.15" fill="#adff2f" fill-opacity="0.17"/><circle cx="538.2" cy="211.1" r="1.15" fill="#adff2f" fill-opacity="0.17"/><circle cx="529.8" cy="209.8" r="1.15" fill="#adff2f" fill-opacity="0.17"/><path d="M538.5 208.4L539.9 210.8L537.1 210.8Z" fill="#adff2f" fill-opacity="0.17"/><path d="M540.2 207.0L541.6 209.5L538.8 209.5Z" fill="#adff2f" fill-opacity="0.17"/><path d="M534.9 207.9L536.3 210.4L533.5 210.4Z" fill="#adff2f" fill-opacity="0.17"/><circle cx="532.7" cy="212.6" r="1.15" fill="#adff2f" fill-opacity="0.17"/><circle cx="541.9" cy="210.9" r="1.15" fill="#adff2f" fill-opacity="0.17"/><circle cx="530.1" cy="211.9" r="1.15" fill="#adff2f" fill-opacity="0.17"/><circle cx="540.5" cy="209.9" r="1.15" fill="#adff2f" fill-opacity="0.17"/><path d="M534.5 206.7L535.9 209.2L533.1 209.2Z" fill="#adff2f" fill-opacity="0.17"/><path d="M542.8 207.2L544.2 209.7L541.4 209.7Z" fill="#adff2f" fill-opacity="0.17"/><path d="M526.9 212.3L528.3 214.8L525.5 214.8Z" fill="#adff2f" fill-opacity="0.17"/><circle cx="527.4" cy="214.3" r="1.15" fill="#adff2f" fill-opacity="0.17"/><path d="M536.7 211.8L538.1 214.3L535.3 214.3Z" fill="#adff2f" fill-opacity="0.17"/><path d="M532.5 206.9L533.9 209.4L531.1 209.4Z" fill="#adff2f" fill-opacity="0.17"/><path d="M536.5 210.2L537.9 212.6L535.1 212.6Z" fill="#adff2f" fill-opacity="0.17"/><path d="M538.1 208.9L539.5 211.4L536.7 211.4Z" fill="#adff2f" fill-opacity="0.17"/><circle cx="534.6" cy="211.1" r="1.15" fill="#adff2f" fill-opacity="0.17"/><path d="M533.8 132.1L535.2 134.6L532.4 134.6Z" fill="#adff2f" fill-opacity="0.2"/><path d="M531.4 135.2L532.8 137.7L530.0 137.7Z" fill="#adff2f" fill-opacity="0.2"/><path d="M531.4 142.3L532.8 144.8L530.0 144.8Z" fill="#adff2f" fill-opacity="0.2"/><path d="M528.3 160.5L529.7 163.0L526.9 163.0Z" fill="#adff2f" fill-opacity="0.2"/><path d="M546.0 209.0L547.4 211.5L544.6 211.5Z" fill="#adff2f" fill-opacity="0.2"/><path d="M514.5 213.5L515.9 216.0L513.1 216.0Z" fill="#adff2f" fill-opacity="0.2"/><path d="M518.0 216.0L519.4 218.5L516.6 218.5Z" fill="#adff2f" fill-opacity="0.2"/></g>
<path d="M528.6 207.7L530.2 210.4L527.1 210.4Z" fill="#9a2ea6" fill-opacity="0.8"/>
<path d="M525.7 207.6L527.3 210.3L524.2 210.3Z" fill="#9a2ea6" fill-opacity="0.8"/>
<circle cx="525.9" cy="210.9" r="1.3" fill="#9a2ea6" fill-opacity="0.8"/>
<circle cx="527.3" cy="211.9" r="1.3" fill="#9a2ea6" fill-opacity="0.8"/>
<circle cx="526.7" cy="207.5" r="1.3" fill="#9a2ea6" fill-opacity="0.8"/>
<circle cx="524.3" cy="209.4" r="1.3" fill="#9a2ea6" fill-opacity="0.8"/>
<path d="M527.4 211.6L528.9 214.3L525.8 214.3Z" fill="#9a2ea6" fill-opacity="0.8"/>
<circle cx="526.2" cy="214.0" r="1.3" fill="#9a2ea6" fill-opacity="0.8"/>
<path d="M528.6 205.7L530.1 208.4L527.0 208.4Z" fill="#9a2ea6" fill-opacity="0.8"/>
<path d="M526.4 209.4L528.0 212.1L524.9 212.1Z" fill="#9a2ea6" fill-opacity="0.8"/>
<path d="M526.1 207.9L527.6 210.6L524.5 210.6Z" fill="#9a2ea6" fill-opacity="0.8"/>
<circle cx="527.5" cy="210.5" r="1.3" fill="#9a2ea6" fill-opacity="0.8"/>
<path d="M527.7 208.8L529.2 211.5L526.1 211.5Z" fill="#9a2ea6" fill-opacity="0.8"/>
<path d="M524.9 204.7L526.5 207.4L523.4 207.4Z" fill="#9a2ea6" fill-opacity="0.8"/>
<circle cx="529.6" cy="212.4" r="1.3" fill="#9a2ea6" fill-opacity="0.8"/>
<path d="M527.3 210.1L528.9 212.8L525.8 212.8Z" fill="#9a2ea6" fill-opacity="0.8"/>
<path d="M525.5 211.0L527.0 213.7L523.9 213.7Z" fill="#9a2ea6" fill-opacity="0.8"/>
<path d="M526.3 209.7L527.8 212.5L524.7 212.5Z" fill="#9a2ea6" fill-opacity="0.8"/>
<circle cx="526.7" cy="211.3" r="1.3" fill="#9a2ea6" fill-opacity="0.8"/>
<circle cx="525.8" cy="209.7" r="1.3" fill="#9a2ea6" fill-opacity="0.8"/>
<path d="M526.1 207.7L527.6 210.4L524.5 210.4Z" fill="#9a2ea6" fill-opacity="0.8"/>
<path d="M527.9 212.3L529.5 215.0L526.4 215.0Z" fill="#9a2ea6" fill-opacity="0.8"/>
<circle cx="527.3" cy="210.8" r="1.3" fill="#9a2ea6" fill-opacity="0.8"/>
<path d="M524.0 211.6L525.6 214.4L522.5 214.4Z" fill="#9a2ea6" fill-opacity="0.8"/>
<path d="M527.3 205.9L528.8 208.7L525.7 208.7Z" fill="#9a2ea6" fill-opacity="0.8"/>
<circle cx="525.2" cy="210.5" r="1.3" fill="#9a2ea6" fill-opacity="0.8"/>
<path d="M533.2 206.6L534.7 209.3L531.6 209.3Z" fill="#9a2ea6" fill-opacity="0.8"/>
<path d="M534.1 209.4L535.7 212.1L532.6 212.1Z" fill="#9a2ea6" fill-opacity="0.8"/>
<path d="M532.9 209.2L534.5 212.0L531.4 212.0Z" fill="#9a2ea6" fill-opacity="0.8"/>
<path d="M534.0 209.5L535.5 212.2L532.4 212.2Z" fill="#9a2ea6" fill-opacity="0.8"/>
<path d="M532.2 210.0L533.8 212.8L530.7 212.8Z" fill="#9a2ea6" fill-opacity="0.8"/>
<circle cx="532.2" cy="210.1" r="1.3" fill="#9a2ea6" fill-opacity="0.8"/>
<circle cx="532.5" cy="211.3" r="1.3" fill="#9a2ea6" fill-opacity="0.8"/>
<circle cx="531.6" cy="209.0" r="1.3" fill="#9a2ea6" fill-opacity="0.8"/>
<circle cx="532.7" cy="211.3" r="1.3" fill="#9a2ea6" fill-opacity="0.8"/>
<path d="M532.2 209.5L533.8 212.2L530.7 212.2Z" fill="#9a2ea6" fill-opacity="0.8"/>
<circle cx="532.7" cy="208.1" r="1.3" fill="#9a2ea6" fill-opacity="0.8"/>
<path d="M534.9 207.7L536.4 210.4L533.3 210.4Z" fill="#9a2ea6" fill-opacity="0.8"/>
<line x1="537.2" y1="16.9" x2="537.2" y2="232" stroke="#b4b4b4" stroke-width="1.3" stroke-dasharray="5.6 6.07"/>
<line x1="537.2" y1="209" x2="537.2" y2="215.5" stroke="#b4b4b4" stroke-width="1.15"/>
<path d="M527.5 199.5L529.1 202.3L525.9 202.3Z" fill="#9a2ea6" fill-opacity="0.95"/>
<path d="M525.8 215.3L527.4 218.1L524.2 218.1Z" fill="#9a2ea6" fill-opacity="0.95"/>
<path d="M533.9 114.8L535.8 118.1L532.0 118.1Z" fill="#9a2ea6" fill-opacity="0.95"/>
<text x="536.5" y="113.9" font-size="4.8" text-anchor="start" font-weight="normal" fill="#111" stroke="#111" stroke-width="0.07">RMBS1</text>
<text x="500.4" y="224.7" font-size="5.5" text-anchor="end" font-weight="normal" fill="#333" stroke="#333" stroke-width="0.08">0</text>
<line x1="502.2" y1="222.3" x2="504.3" y2="222.3" stroke="#333" stroke-width="0.7"/>
<line x1="510.9" y1="232.2" x2="510.9" y2="234" stroke="#333" stroke-width="0.7"/>
<text x="510.9" y="240.0" font-size="5.5" text-anchor="middle" font-weight="normal" fill="#333" stroke="#333" stroke-width="0.08">0</text>
<text x="500.4" y="184.8" font-size="5.5" text-anchor="end" font-weight="normal" fill="#333" stroke="#333" stroke-width="0.08">1</text>
<line x1="502.2" y1="182.4" x2="504.3" y2="182.4" stroke="#333" stroke-width="0.7"/>
<line x1="537.2" y1="232.2" x2="537.2" y2="234" stroke="#333" stroke-width="0.7"/>
<text x="537.2" y="240.0" font-size="5.5" text-anchor="middle" font-weight="normal" fill="#333" stroke="#333" stroke-width="0.08">1</text>
<text x="500.4" y="145.0" font-size="5.5" text-anchor="end" font-weight="normal" fill="#333" stroke="#333" stroke-width="0.08">2</text>
<line x1="502.2" y1="142.6" x2="504.3" y2="142.6" stroke="#333" stroke-width="0.7"/>
<line x1="563.5" y1="232.2" x2="563.5" y2="234" stroke="#333" stroke-width="0.7"/>
<text x="563.5" y="240.0" font-size="5.5" text-anchor="middle" font-weight="normal" fill="#333" stroke="#333" stroke-width="0.08">2</text>
<text x="500.4" y="105.1" font-size="5.5" text-anchor="end" font-weight="normal" fill="#333" stroke="#333" stroke-width="0.08">3</text>
<line x1="502.2" y1="102.7" x2="504.3" y2="102.7" stroke="#333" stroke-width="0.7"/>
<line x1="589.9" y1="232.2" x2="589.9" y2="234" stroke="#333" stroke-width="0.7"/>
<text x="589.9" y="240.0" font-size="5.5" text-anchor="middle" font-weight="normal" fill="#333" stroke="#333" stroke-width="0.08">3</text>
<text x="500.4" y="65.2" font-size="5.5" text-anchor="end" font-weight="normal" fill="#333" stroke="#333" stroke-width="0.08">4</text>
<line x1="502.2" y1="62.8" x2="504.3" y2="62.8" stroke="#333" stroke-width="0.7"/>
<line x1="616.2" y1="232.2" x2="616.2" y2="234" stroke="#333" stroke-width="0.7"/>
<text x="616.2" y="240.0" font-size="5.5" text-anchor="middle" font-weight="normal" fill="#333" stroke="#333" stroke-width="0.08">4</text>
<text x="500.4" y="25.4" font-size="5.5" text-anchor="end" font-weight="normal" fill="#333" stroke="#333" stroke-width="0.08">5</text>
<line x1="502.2" y1="23.0" x2="504.3" y2="23.0" stroke="#333" stroke-width="0.7"/>
<line x1="642.5" y1="232.2" x2="642.5" y2="234" stroke="#333" stroke-width="0.7"/>
<text x="642.5" y="240.0" font-size="5.5" text-anchor="middle" font-weight="normal" fill="#333" stroke="#333" stroke-width="0.08">5</text>
<text x="576.5" y="248.9" font-size="7.74" text-anchor="middle" font-weight="normal" fill="#111" stroke="#111" stroke-width="0.11">FC expression Finistere vs control</text>
<text x="493.3" y="122.8" font-size="7.56" text-anchor="middle" font-weight="normal" fill="#111" stroke="#111" stroke-width="0.11" transform="rotate(-90 493.3 122.8)">FC enrichment RISC Finistere vs control</text>
<rect x="553.4" y="10.3" width="9.100000000000023" height="18.599999999999998" fill="#f2f2f2"/>
<rect x="619.9" y="9.0" width="9.300000000000068" height="19.9" fill="#f2f2f2"/>
<line x1="553.4" y1="19.3" x2="562.5" y2="19.3" stroke="#fff" stroke-width="0.5"/>
<line x1="619.9" y1="19.3" x2="629.2" y2="19.3" stroke="#fff" stroke-width="0.5"/>
<circle cx="558.0" cy="14.8" r="1.2" fill="#000" fill-opacity="1"/>
<path d="M558.0 22.7L559.5 25.4L556.4 25.4Z" fill="#000" fill-opacity="1"/>
<rect x="623.47" y="13.22" width="2.16" height="2.16" fill="#adff2f"/>
<circle cx="624.5" cy="23.9" r="1.08" fill="#9a2ea6" fill-opacity="1"/>
<text x="564.4" y="16.6" font-size="5.0" text-anchor="start" font-weight="normal" fill="#111" stroke="#111" stroke-width="0.07">Non−miRNA−target</text>
<text x="566.9" y="26.5" font-size="5.0" text-anchor="start" font-weight="normal" fill="#111" stroke="#111" stroke-width="0.07">miRNA−target</text>
<text x="631.1" y="16.2" font-size="5.0" text-anchor="start" font-weight="normal" fill="#111" stroke="#111" stroke-width="0.07">Non−interferome</text>
<text x="633.2" y="25.9" font-size="5.0" text-anchor="start" font-weight="normal" fill="#111" stroke="#111" stroke-width="0.07">Interferome</text>
</svg>
</body></html>
